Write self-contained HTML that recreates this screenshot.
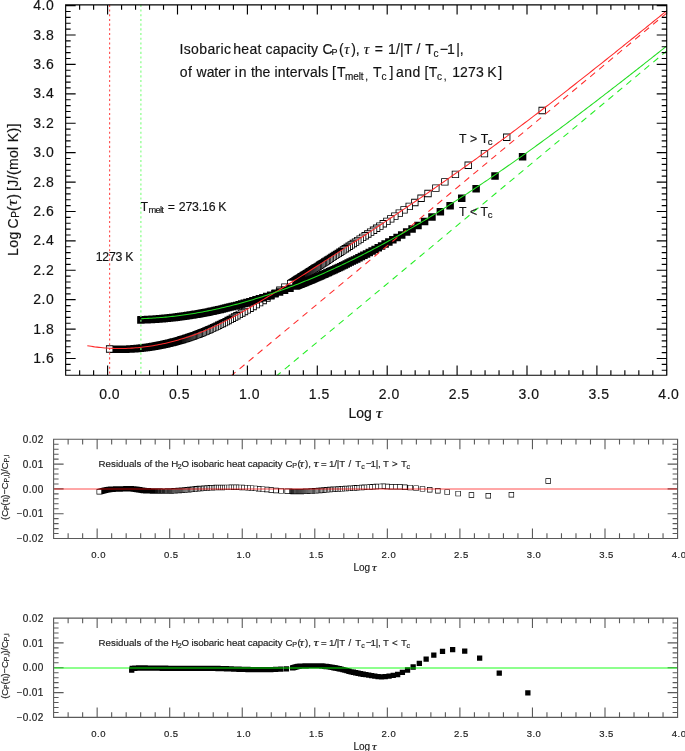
<!DOCTYPE html>
<html><head><meta charset="utf-8"><style>
html,body{margin:0;padding:0;background:#fff;}
svg{display:block;font-family:"Liberation Sans", sans-serif;font-kerning:none;}
text{stroke:#222;stroke-width:0.18px;}
</style></head><body>
<svg width="685" height="751" viewBox="0 0 685 751">
<rect width="685" height="751" fill="#fff"/>
<g opacity="0.999">
<path d="M538.5 106.78h7.35v7.35h-7.35zM503.03 133.55h7.35v7.35h-7.35zM480.78 149.91h7.35v7.35h-7.35zM464.54 161.62h7.35v7.35h-7.35zM451.74 170.73h7.35v7.35h-7.35zM441.17 178.16h7.35v7.35h-7.35zM432.17 184.43h7.35v7.35h-7.35zM424.34 189.85h7.35v7.35h-7.35zM417.4 194.61h7.35v7.35h-7.35zM411.17 198.87h7.35v7.35h-7.35zM405.53 202.71h7.35v7.35h-7.35zM400.36 206.21h7.35v7.35h-7.35zM395.6 209.42h7.35v7.35h-7.35zM391.18 212.38h7.35v7.35h-7.35zM387.07 215.14h7.35v7.35h-7.35zM383.22 217.71h7.35v7.35h-7.35zM379.59 220.12h7.35v7.35h-7.35zM376.17 222.4h7.35v7.35h-7.35zM372.94 224.54h7.35v7.35h-7.35zM369.86 226.57h7.35v7.35h-7.35zM366.94 228.5h7.35v7.35h-7.35zM364.15 230.34h7.35v7.35h-7.35zM361.48 232.09h7.35v7.35h-7.35zM358.92 233.77h7.35v7.35h-7.35zM356.47 235.38h7.35v7.35h-7.35zM354.11 236.92h7.35v7.35h-7.35zM351.84 238.4h7.35v7.35h-7.35zM349.66 239.83h7.35v7.35h-7.35zM347.55 241.2h7.35v7.35h-7.35zM345.5 242.53h7.35v7.35h-7.35zM343.53 243.81h7.35v7.35h-7.35zM341.62 245.05h7.35v7.35h-7.35zM339.77 246.25h7.35v7.35h-7.35zM337.97 247.42h7.35v7.35h-7.35zM336.22 248.55h7.35v7.35h-7.35zM334.52 249.64h7.35v7.35h-7.35zM332.87 250.71h7.35v7.35h-7.35zM331.26 251.75h7.35v7.35h-7.35zM329.7 252.76h7.35v7.35h-7.35zM328.17 253.74h7.35v7.35h-7.35zM326.68 254.7h7.35v7.35h-7.35zM325.23 255.63h7.35v7.35h-7.35zM323.81 256.54h7.35v7.35h-7.35zM322.42 257.43h7.35v7.35h-7.35zM321.06 258.3h7.35v7.35h-7.35zM319.73 259.16h7.35v7.35h-7.35zM318.44 259.99h7.35v7.35h-7.35zM317.16 260.8h7.35v7.35h-7.35zM315.92 261.6h7.35v7.35h-7.35zM314.7 262.38h7.35v7.35h-7.35zM313.5 263.14h7.35v7.35h-7.35zM312.33 263.89h7.35v7.35h-7.35zM311.18 264.62h7.35v7.35h-7.35zM310.05 265.34h7.35v7.35h-7.35zM308.94 266.05h7.35v7.35h-7.35zM307.85 266.74h7.35v7.35h-7.35zM306.78 267.42h7.35v7.35h-7.35zM305.73 268.09h7.35v7.35h-7.35zM304.7 268.75h7.35v7.35h-7.35zM303.68 269.39h7.35v7.35h-7.35zM302.68 270.03h7.35v7.35h-7.35zM301.7 270.65h7.35v7.35h-7.35zM300.73 271.26h7.35v7.35h-7.35zM299.78 271.87h7.35v7.35h-7.35zM298.84 272.46h7.35v7.35h-7.35zM297.92 273.04h7.35v7.35h-7.35zM297.01 273.62h7.35v7.35h-7.35zM296.11 274.18h7.35v7.35h-7.35zM295.23 274.74h7.35v7.35h-7.35zM294.36 275.29h7.35v7.35h-7.35zM293.5 275.83h7.35v7.35h-7.35zM292.66 276.36h7.35v7.35h-7.35zM291.82 276.88h7.35v7.35h-7.35zM291 277.4h7.35v7.35h-7.35zM290.19 277.91h7.35v7.35h-7.35zM289.39 278.41h7.35v7.35h-7.35zM288.59 278.91h7.35v7.35h-7.35zM287.81 279.4h7.35v7.35h-7.35zM287.04 279.88h7.35v7.35h-7.35zM281.2 283.52h7.35v7.35h-7.35zM276.2 286.61h7.35v7.35h-7.35zM271.57 289.46h7.35v7.35h-7.35zM267.28 292.08h7.35v7.35h-7.35zM263.26 294.52h7.35v7.35h-7.35zM259.5 296.79h7.35v7.35h-7.35zM255.95 298.92h7.35v7.35h-7.35zM252.61 300.91h7.35v7.35h-7.35zM249.43 302.79h7.35v7.35h-7.35zM246.42 304.56h7.35v7.35h-7.35zM243.54 306.24h7.35v7.35h-7.35zM240.8 307.82h7.35v7.35h-7.35zM238.17 309.32h7.35v7.35h-7.35zM235.66 310.74h7.35v7.35h-7.35zM233.24 312.08h7.35v7.35h-7.35zM230.92 313.36h7.35v7.35h-7.35zM228.68 314.58h7.35v7.35h-7.35zM226.52 315.73h7.35v7.35h-7.35zM224.44 316.83h7.35v7.35h-7.35zM222.42 317.88h7.35v7.35h-7.35zM220.47 318.88h7.35v7.35h-7.35zM218.58 319.84h7.35v7.35h-7.35zM216.75 320.75h7.35v7.35h-7.35zM214.97 321.62h7.35v7.35h-7.35zM213.25 322.45h7.35v7.35h-7.35zM211.56 323.24h7.35v7.35h-7.35zM209.93 324h7.35v7.35h-7.35zM208.34 324.73h7.35v7.35h-7.35zM206.79 325.43h7.35v7.35h-7.35zM205.27 326.09h7.35v7.35h-7.35zM203.8 326.73h7.35v7.35h-7.35zM202.36 327.34h7.35v7.35h-7.35zM200.95 327.93h7.35v7.35h-7.35zM199.57 328.49h7.35v7.35h-7.35zM198.23 329.03h7.35v7.35h-7.35zM196.91 329.55h7.35v7.35h-7.35zM195.62 330.05h7.35v7.35h-7.35zM194.36 330.54h7.35v7.35h-7.35zM193.13 331h7.35v7.35h-7.35zM191.92 331.45h7.35v7.35h-7.35zM190.73 331.88h7.35v7.35h-7.35zM189.56 332.3h7.35v7.35h-7.35zM188.42 332.7h7.35v7.35h-7.35zM187.3 333.09h7.35v7.35h-7.35zM186.2 333.47h7.35v7.35h-7.35zM185.12 333.83h7.35v7.35h-7.35zM184.05 334.19h7.35v7.35h-7.35zM183.01 334.53h7.35v7.35h-7.35zM181.98 334.86h7.35v7.35h-7.35zM180.97 335.18h7.35v7.35h-7.35zM179.98 335.49h7.35v7.35h-7.35zM179 335.79h7.35v7.35h-7.35zM178.04 336.08h7.35v7.35h-7.35zM177.09 336.36h7.35v7.35h-7.35zM176.16 336.64h7.35v7.35h-7.35zM175.24 336.9h7.35v7.35h-7.35zM174.34 337.16h7.35v7.35h-7.35zM173.45 337.41h7.35v7.35h-7.35zM172.57 337.66h7.35v7.35h-7.35zM171.7 337.89h7.35v7.35h-7.35zM170.85 338.13h7.35v7.35h-7.35zM170.01 338.35h7.35v7.35h-7.35zM169.18 338.57h7.35v7.35h-7.35zM168.36 338.78h7.35v7.35h-7.35zM167.55 338.99h7.35v7.35h-7.35zM166.75 339.19h7.35v7.35h-7.35zM165.97 339.38h7.35v7.35h-7.35zM165.19 339.57h7.35v7.35h-7.35zM164.42 339.75h7.35v7.35h-7.35zM163.67 339.93h7.35v7.35h-7.35zM162.92 340.11h7.35v7.35h-7.35zM162.18 340.28h7.35v7.35h-7.35zM161.45 340.44h7.35v7.35h-7.35zM160.73 340.6h7.35v7.35h-7.35zM160.01 340.76h7.35v7.35h-7.35zM159.31 340.91h7.35v7.35h-7.35zM158.61 341.06h7.35v7.35h-7.35zM157.92 341.21h7.35v7.35h-7.35zM157.24 341.35h7.35v7.35h-7.35zM156.57 341.48h7.35v7.35h-7.35zM155.9 341.62h7.35v7.35h-7.35zM155.24 341.75h7.35v7.35h-7.35zM154.59 341.87h7.35v7.35h-7.35zM153.95 341.99h7.35v7.35h-7.35zM153.31 342.11h7.35v7.35h-7.35zM152.68 342.23h7.35v7.35h-7.35zM152.05 342.34h7.35v7.35h-7.35zM151.43 342.45h7.35v7.35h-7.35zM150.82 342.56h7.35v7.35h-7.35zM150.21 342.67h7.35v7.35h-7.35zM149.61 342.77h7.35v7.35h-7.35zM149.02 342.87h7.35v7.35h-7.35zM148.43 342.96h7.35v7.35h-7.35zM147.85 343.06h7.35v7.35h-7.35zM147.27 343.15h7.35v7.35h-7.35zM146.7 343.24h7.35v7.35h-7.35zM146.13 343.32h7.35v7.35h-7.35zM145.57 343.41h7.35v7.35h-7.35zM145.01 343.49h7.35v7.35h-7.35zM144.46 343.57h7.35v7.35h-7.35zM143.91 343.65h7.35v7.35h-7.35zM143.37 343.72h7.35v7.35h-7.35zM142.84 343.8h7.35v7.35h-7.35zM142.3 343.87h7.35v7.35h-7.35zM141.78 343.94h7.35v7.35h-7.35zM141.25 344h7.35v7.35h-7.35zM140.74 344.07h7.35v7.35h-7.35zM140.22 344.13h7.35v7.35h-7.35zM139.71 344.2h7.35v7.35h-7.35zM139.21 344.26h7.35v7.35h-7.35zM138.71 344.31h7.35v7.35h-7.35zM138.21 344.37h7.35v7.35h-7.35zM137.72 344.43h7.35v7.35h-7.35zM137.23 344.48h7.35v7.35h-7.35zM136.74 344.53h7.35v7.35h-7.35zM136.26 344.58h7.35v7.35h-7.35zM135.78 344.63h7.35v7.35h-7.35zM135.31 344.68h7.35v7.35h-7.35zM134.84 344.72h7.35v7.35h-7.35zM134.37 344.77h7.35v7.35h-7.35zM133.91 344.81h7.35v7.35h-7.35zM133.45 344.85h7.35v7.35h-7.35zM132.99 344.89h7.35v7.35h-7.35zM132.54 344.93h7.35v7.35h-7.35zM132.09 344.97h7.35v7.35h-7.35zM131.65 345h7.35v7.35h-7.35zM131.2 345.04h7.35v7.35h-7.35zM130.76 345.07h7.35v7.35h-7.35zM130.33 345.1h7.35v7.35h-7.35zM129.89 345.13h7.35v7.35h-7.35zM129.46 345.16h7.35v7.35h-7.35zM129.04 345.19h7.35v7.35h-7.35zM128.61 345.22h7.35v7.35h-7.35zM128.19 345.25h7.35v7.35h-7.35zM127.77 345.27h7.35v7.35h-7.35zM127.36 345.3h7.35v7.35h-7.35zM126.94 345.32h7.35v7.35h-7.35zM126.53 345.34h7.35v7.35h-7.35zM126.13 345.36h7.35v7.35h-7.35zM125.72 345.39h7.35v7.35h-7.35zM125.32 345.41h7.35v7.35h-7.35zM124.92 345.42h7.35v7.35h-7.35zM124.53 345.44h7.35v7.35h-7.35zM124.13 345.46h7.35v7.35h-7.35zM123.74 345.47h7.35v7.35h-7.35zM123.35 345.49h7.35v7.35h-7.35zM122.97 345.5h7.35v7.35h-7.35zM122.58 345.52h7.35v7.35h-7.35zM122.2 345.53h7.35v7.35h-7.35zM121.82 345.54h7.35v7.35h-7.35zM121.44 345.55h7.35v7.35h-7.35zM121.07 345.56h7.35v7.35h-7.35zM120.7 345.57h7.35v7.35h-7.35zM120.33 345.58h7.35v7.35h-7.35zM119.96 345.59h7.35v7.35h-7.35zM119.59 345.59h7.35v7.35h-7.35zM119.23 345.6h7.35v7.35h-7.35zM118.87 345.61h7.35v7.35h-7.35zM118.51 345.61h7.35v7.35h-7.35zM118.15 345.62h7.35v7.35h-7.35zM117.8 345.62h7.35v7.35h-7.35zM117.45 345.62h7.35v7.35h-7.35zM117.1 345.62h7.35v7.35h-7.35zM116.75 345.63h7.35v7.35h-7.35zM116.4 345.63h7.35v7.35h-7.35zM116.06 345.63h7.35v7.35h-7.35zM115.71 345.63h7.35v7.35h-7.35zM115.37 345.63h7.35v7.35h-7.35zM115.03 345.62h7.35v7.35h-7.35zM114.7 345.62h7.35v7.35h-7.35zM114.36 345.62h7.35v7.35h-7.35zM114.03 345.62h7.35v7.35h-7.35zM113.7 345.61h7.35v7.35h-7.35zM113.37 345.61h7.35v7.35h-7.35zM113.04 345.6h7.35v7.35h-7.35zM112.71 345.6h7.35v7.35h-7.35zM112.39 345.59h7.35v7.35h-7.35zM112.06 345.59h7.35v7.35h-7.35zM111.74 345.58h7.35v7.35h-7.35zM111.42 345.57h7.35v7.35h-7.35zM111.11 345.56h7.35v7.35h-7.35zM110.79 345.56h7.35v7.35h-7.35zM110.48 345.55h7.35v7.35h-7.35zM110.16 345.54h7.35v7.35h-7.35zM109.85 345.53h7.35v7.35h-7.35zM109.54 345.52h7.35v7.35h-7.35zM109.24 345.51h7.35v7.35h-7.35zM108.93 345.5h7.35v7.35h-7.35zM108.62 345.48h7.35v7.35h-7.35zM108.32 345.47h7.35v7.35h-7.35zM108.02 345.46h7.35v7.35h-7.35zM107.72 345.45h7.35v7.35h-7.35zM107.42 345.43h7.35v7.35h-7.35zM107.12 345.42h7.35v7.35h-7.35zM106.83 345.41h7.35v7.35h-7.35zM106.53 345.39h7.35v7.35h-7.35zM106.24 345.38h7.35v7.35h-7.35zM105.95 345.36h7.35v7.35h-7.35z" fill="#000"/><path d="M539.35 107.63H545V113.28H539.35zM503.88 134.4H509.53V140.05H503.88zM481.63 150.76H487.28V156.41H481.63zM465.39 162.47H471.04V168.12H465.39zM452.59 171.58H458.24V177.23H452.59zM442.02 179.01H447.67V184.66H442.02zM433.02 185.28H438.67V190.93H433.02zM425.19 190.7H430.84V196.35H425.19zM418.25 195.46H423.9V198.87H418.25zM418.52 198.87H423.9V201.11H418.52zM412.02 199.72H417.67V202.71H412.02zM412.88 202.71H417.67V205.37H412.88zM406.38 203.56H412.03V206.21H406.38zM407.71 206.21H412.03V209.21H407.71zM401.21 207.06H406.86V209.42H401.21zM402.95 209.42H406.86V212.71H402.95zM396.45 210.27H402.1V212.38H396.45zM398.53 212.38H402.1V215.92H398.53zM392.03 213.23H397.68V215.14H392.03zM394.42 215.14H397.68V218.88H394.42zM387.92 215.99H393.57V217.71H387.92zM390.57 217.71H393.57V221.64H390.57zM384.07 218.56H389.72V220.12H384.07zM386.94 220.12H389.72V224.21H386.94zM380.44 220.97H386.09V222.4H380.44zM383.52 222.4H386.09V226.62H383.52zM377.02 223.25H382.67V224.54H377.02zM380.29 224.54H382.67V228.9H380.29zM373.79 225.39H379.44V226.57H373.79zM377.21 226.57H379.44V231.04H377.21zM370.71 227.42H376.36V228.5H370.71zM374.29 228.5H376.36V233.07H374.29zM367.79 229.35H373.44V230.34H367.79zM371.5 230.34H373.44V235H371.5zM365 231.19H370.65V232.09H365zM368.83 232.09H370.65V236.84H368.83zM362.33 232.94H367.98V233.77H362.33zM366.27 233.77H367.98V238.59H366.27zM359.77 234.62H365.42V235.38H359.77zM363.82 235.38H365.42V240.27H363.82zM357.32 236.23H362.97V236.92H357.32zM361.46 236.92H362.97V241.88H361.46zM354.96 237.77H360.61V238.4H354.96zM359.19 238.4H360.61V243.42H359.19zM352.69 239.25H358.34V239.83H352.69zM357.01 239.83H358.34V244.9H357.01zM350.51 240.68H356.16V241.2H350.51zM354.9 241.2H356.16V246.33H354.9zM348.4 242.05H354.05V242.53H348.4zM352.85 242.53H354.05V247.7H352.85zM346.35 243.38H352V243.81H346.35zM350.88 243.81H352V249.03H350.88zM344.38 244.66H350.03V245.05H344.38zM348.97 245.05H350.03V250.31H348.97zM342.47 245.9H348.12V246.25H342.47zM347.12 246.25H348.12V251.55H347.12zM340.62 247.1H346.27V247.42H340.62zM345.32 247.42H346.27V252.75H345.32zM343.57 248.55H344.47V253.92H343.57zM341.87 249.64H342.72V255.05H341.87zM340.22 250.71H341.02V256.14H340.22zM338.61 251.75H339.37V257.21H338.61zM337.05 252.76H337.76V258.25H337.05zM335.52 253.74H336.2V259.26H335.52zM334.03 254.7H334.67V260.24H334.03zM332.58 255.63H333.18V261.2H332.58zM331.16 256.54H331.73V262.13H331.16zM329.77 257.43H330.31V263.04H329.77zM328.41 258.3H328.92V263.93H328.41zM327.08 259.16H327.56V264.8H327.08zM325.79 260.01H326.23V265.66H325.79zM324.51 260.84H324.94V266.49H324.51zM323.27 261.65H323.66V267.3H323.27zM322.05 262.45H322.42V268.1H322.05zM320.85 263.23H321.2V268.88H320.85zM319.68 263.99H320V269.64H319.68zM318.53 264.74H318.83V270.39H318.53zM317.4 265.47H317.68V271.12H317.4zM316.29 266.19H316.55V271.84H316.29zM315.2 266.9H315.44V272.55H315.2zM314.13 267.59H314.35V273.24H314.13zM313.08 268.27H313.28V273.92H313.08zM312.05 268.94H312.23V274.59H312.05zM311.03 269.6H311.2V275.25H311.03zM310.03 270.24H310.18V275.89H310.03zM309.05 270.88H309.18V276.53H309.05zM308.08 271.5H308.2V277.15H308.08zM307.13 272.11H307.23V277.76H307.13zM306.19 272.72H306.28V278.37H306.19zM305.27 273.31H305.34V278.96H305.27zM287.89 280.73H293.54V283.52H287.89zM288.55 283.52H293.54V286.38H288.55zM282.05 284.37H287.7V286.61H282.05zM283.55 286.61H287.7V290.02H283.55zM277.05 287.46H282.7V289.46H277.05zM278.92 289.46H282.7V293.11H278.92zM272.42 290.31H278.07V292.08H272.42zM274.63 292.08H278.07V295.96H274.63zM268.13 292.93H273.78V294.52H268.13zM270.61 294.52H273.78V298.58H270.61zM264.11 295.37H269.76V296.79H264.11zM266.85 296.79H269.76V301.02H266.85zM260.35 297.64H266V298.92H260.35zM263.3 298.92H266V303.29H263.3zM256.8 299.77H262.45V300.91H256.8zM259.96 300.91H262.45V305.42H259.96zM253.46 301.76H259.11V302.79H253.46zM256.78 302.79H259.11V307.41H256.78zM250.28 303.64H255.93V304.56H250.28zM253.77 304.56H255.93V309.29H253.77zM247.27 305.41H252.92V306.24H247.27zM250.89 306.24H252.92V311.06H250.89zM244.39 307.09H250.04V307.82H244.39zM248.15 307.82H250.04V312.74H248.15zM241.65 308.67H247.3V309.32H241.65zM245.52 309.32H247.3V314.32H245.52zM239.02 310.17H244.67V310.74H239.02zM243.01 310.74H244.67V315.82H243.01zM236.51 311.59H242.16V312.08H236.51zM240.59 312.08H242.16V317.24H240.59zM234.09 312.93H239.74V313.36H234.09zM238.27 313.36H239.74V318.58H238.27zM231.77 314.21H237.42V314.58H231.77zM236.03 314.58H237.42V319.86H236.03zM229.53 315.43H235.18V315.73H229.53zM233.87 315.73H235.18V321.08H233.87zM231.79 316.83H233.02V322.23H231.79zM229.77 317.88H230.94V323.33H229.77zM227.82 318.88H228.92V324.38H227.82zM225.93 319.84H226.97V325.38H225.93zM224.1 320.75H225.08V326.34H224.1zM222.32 321.62H223.25V327.25H222.32zM220.6 322.47H221.47V328.12H220.6zM218.91 323.3H219.75V328.95H218.91zM217.28 324.09H218.06V329.74H217.28zM215.69 324.85H216.43V330.5H215.69zM214.14 325.58H214.84V331.23H214.14zM212.62 326.28H213.29V331.93H212.62zM211.15 326.94H211.77V332.59H211.15zM209.71 327.58H210.3V333.23H209.71zM208.3 328.19H208.86V333.84H208.3zM206.92 328.78H207.45V334.43H206.92zM205.58 329.34H206.07V334.99H205.58zM204.26 329.88H204.73V335.53H204.26zM202.97 330.4H203.41V336.05H202.97zM201.71 330.9H202.12V336.55H201.71zM200.48 331.39H200.86V337.04H200.48zM199.27 331.85H199.63V337.5H199.27zM198.08 332.3H198.42V337.95H198.08zM196.91 332.73H197.23V338.38H196.91zM195.77 333.15H196.06V338.8H195.77zM194.65 333.55H194.92V339.2H194.65zM193.55 333.94H193.8V339.59H193.55zM192.47 334.32H192.7V339.97H192.47zM191.4 334.68H191.62V340.33H191.4zM190.36 335.04H190.55V340.69H190.36zM189.33 335.38H189.51V341.03H189.33zM188.32 335.71H188.48V341.36H188.32zM187.33 336.03H187.47V341.68H187.33zM186.35 336.34H186.48V341.99H186.35zM185.39 336.64H185.5V342.29H185.39zM184.44 336.93H184.54V342.58H184.44zM183.51 337.21H183.59V342.86H183.51zM182.59 337.49H182.66V343.14H182.59zM106.8 346.21H112.45V351.86H106.8z" fill="#fff"/>
<path d="M518.83 153.07h7.5v7.5h-7.5zM491.26 172.33h7.5v7.5h-7.5zM472.37 185.08h7.5v7.5h-7.5zM457.98 194.52h7.5v7.5h-7.5zM446.36 201.98h7.5v7.5h-7.5zM436.61 208.1h7.5v7.5h-7.5zM428.21 213.28h7.5v7.5h-7.5zM420.83 217.75h7.5v7.5h-7.5zM414.25 221.67h7.5v7.5h-7.5zM408.32 225.16h7.5v7.5h-7.5zM402.92 228.29h7.5v7.5h-7.5zM397.95 231.13h7.5v7.5h-7.5zM393.36 233.73h7.5v7.5h-7.5zM389.1 236.11h7.5v7.5h-7.5zM385.11 238.31h7.5v7.5h-7.5zM381.37 240.36h7.5v7.5h-7.5zM377.85 242.27h7.5v7.5h-7.5zM374.52 244.05h7.5v7.5h-7.5zM371.37 245.73h7.5v7.5h-7.5zM368.37 247.3h7.5v7.5h-7.5zM365.51 248.8h7.5v7.5h-7.5zM362.78 250.21h7.5v7.5h-7.5zM360.16 251.55h7.5v7.5h-7.5zM357.66 252.82h7.5v7.5h-7.5zM355.25 254.03h7.5v7.5h-7.5zM352.94 255.19h7.5v7.5h-7.5zM350.71 256.3h7.5v7.5h-7.5zM348.56 257.36h7.5v7.5h-7.5zM346.48 258.37h7.5v7.5h-7.5zM344.47 259.35h7.5v7.5h-7.5zM342.53 260.29h7.5v7.5h-7.5zM340.65 261.19h7.5v7.5h-7.5zM338.82 262.06h7.5v7.5h-7.5zM337.05 262.9h7.5v7.5h-7.5zM335.32 263.7h7.5v7.5h-7.5zM333.65 264.49h7.5v7.5h-7.5zM332.02 265.24h7.5v7.5h-7.5zM330.43 265.98h7.5v7.5h-7.5zM328.88 266.68h7.5v7.5h-7.5zM327.37 267.37h7.5v7.5h-7.5zM325.9 268.04h7.5v7.5h-7.5zM324.46 268.69h7.5v7.5h-7.5zM323.06 269.31h7.5v7.5h-7.5zM321.69 269.93h7.5v7.5h-7.5zM320.35 270.52h7.5v7.5h-7.5zM319.03 271.1h7.5v7.5h-7.5zM317.75 271.66h7.5v7.5h-7.5zM316.49 272.21h7.5v7.5h-7.5zM315.26 272.74h7.5v7.5h-7.5zM314.05 273.26h7.5v7.5h-7.5zM312.86 273.77h7.5v7.5h-7.5zM311.7 274.27h7.5v7.5h-7.5zM310.56 274.75h7.5v7.5h-7.5zM309.44 275.23h7.5v7.5h-7.5zM308.34 275.69h7.5v7.5h-7.5zM307.26 276.14h7.5v7.5h-7.5zM306.2 276.58h7.5v7.5h-7.5zM305.16 277.01h7.5v7.5h-7.5zM304.13 277.44h7.5v7.5h-7.5zM303.13 277.85h7.5v7.5h-7.5zM302.13 278.25h7.5v7.5h-7.5zM301.16 278.65h7.5v7.5h-7.5zM300.2 279.04h7.5v7.5h-7.5zM299.25 279.42h7.5v7.5h-7.5zM298.32 279.79h7.5v7.5h-7.5zM297.41 280.16h7.5v7.5h-7.5zM296.5 280.52h7.5v7.5h-7.5zM295.61 280.87h7.5v7.5h-7.5zM294.74 281.22h7.5v7.5h-7.5zM293.87 281.56h7.5v7.5h-7.5zM293.02 281.89h7.5v7.5h-7.5zM292.18 282.22h7.5v7.5h-7.5zM286.22 284.5h7.5v7.5h-7.5zM280.8 286.51h7.5v7.5h-7.5zM275.82 288.31h7.5v7.5h-7.5zM271.21 289.93h7.5v7.5h-7.5zM266.94 291.39h7.5v7.5h-7.5zM262.94 292.72h7.5v7.5h-7.5zM259.19 293.94h7.5v7.5h-7.5zM255.66 295.07h7.5v7.5h-7.5zM252.32 296.1h7.5v7.5h-7.5zM249.16 297.06h7.5v7.5h-7.5zM246.15 297.96h7.5v7.5h-7.5zM243.29 298.79h7.5v7.5h-7.5zM240.55 299.57h7.5v7.5h-7.5zM237.94 300.3h7.5v7.5h-7.5zM235.43 300.98h7.5v7.5h-7.5zM233.02 301.63h7.5v7.5h-7.5zM230.7 302.24h7.5v7.5h-7.5zM228.47 302.81h7.5v7.5h-7.5zM226.31 303.35h7.5v7.5h-7.5zM224.23 303.87h7.5v7.5h-7.5zM222.22 304.36h7.5v7.5h-7.5zM220.28 304.82h7.5v7.5h-7.5zM218.39 305.26h7.5v7.5h-7.5zM216.56 305.68h7.5v7.5h-7.5zM214.79 306.08h7.5v7.5h-7.5zM213.06 306.47h7.5v7.5h-7.5zM211.38 306.83h7.5v7.5h-7.5zM209.75 307.18h7.5v7.5h-7.5zM208.16 307.51h7.5v7.5h-7.5zM206.61 307.83h7.5v7.5h-7.5zM205.1 308.14h7.5v7.5h-7.5zM203.63 308.43h7.5v7.5h-7.5zM202.19 308.72h7.5v7.5h-7.5zM200.78 308.99h7.5v7.5h-7.5zM199.41 309.25h7.5v7.5h-7.5zM198.07 309.5h7.5v7.5h-7.5zM196.75 309.74h7.5v7.5h-7.5zM195.47 309.97h7.5v7.5h-7.5zM194.21 310.19h7.5v7.5h-7.5zM192.97 310.4h7.5v7.5h-7.5zM191.76 310.61h7.5v7.5h-7.5zM190.58 310.81h7.5v7.5h-7.5zM189.41 311h7.5v7.5h-7.5zM188.27 311.19h7.5v7.5h-7.5zM187.15 311.37h7.5v7.5h-7.5zM186.05 311.54h7.5v7.5h-7.5zM184.97 311.7h7.5v7.5h-7.5zM183.91 311.87h7.5v7.5h-7.5zM182.87 312.02h7.5v7.5h-7.5zM181.84 312.17h7.5v7.5h-7.5zM180.83 312.32h7.5v7.5h-7.5zM179.84 312.46h7.5v7.5h-7.5zM178.87 312.59h7.5v7.5h-7.5zM177.9 312.72h7.5v7.5h-7.5zM176.96 312.85h7.5v7.5h-7.5zM176.03 312.97h7.5v7.5h-7.5zM175.11 313.09h7.5v7.5h-7.5zM174.21 313.21h7.5v7.5h-7.5zM173.32 313.32h7.5v7.5h-7.5zM172.44 313.43h7.5v7.5h-7.5zM171.57 313.53h7.5v7.5h-7.5zM170.72 313.63h7.5v7.5h-7.5zM169.88 313.73h7.5v7.5h-7.5zM169.05 313.82h7.5v7.5h-7.5zM168.23 313.92h7.5v7.5h-7.5zM167.43 314h7.5v7.5h-7.5zM166.63 314.09h7.5v7.5h-7.5zM165.84 314.17h7.5v7.5h-7.5zM165.07 314.26h7.5v7.5h-7.5zM164.3 314.33h7.5v7.5h-7.5zM163.54 314.41h7.5v7.5h-7.5zM162.79 314.48h7.5v7.5h-7.5zM162.06 314.55h7.5v7.5h-7.5zM161.33 314.62h7.5v7.5h-7.5zM160.6 314.69h7.5v7.5h-7.5zM159.89 314.75h7.5v7.5h-7.5zM159.19 314.82h7.5v7.5h-7.5zM158.49 314.88h7.5v7.5h-7.5zM157.8 314.94h7.5v7.5h-7.5zM157.12 314.99h7.5v7.5h-7.5zM156.45 315.05h7.5v7.5h-7.5zM155.78 315.1h7.5v7.5h-7.5zM155.13 315.15h7.5v7.5h-7.5zM154.47 315.2h7.5v7.5h-7.5zM153.83 315.25h7.5v7.5h-7.5zM153.19 315.3h7.5v7.5h-7.5zM152.56 315.35h7.5v7.5h-7.5zM151.94 315.39h7.5v7.5h-7.5zM151.32 315.43h7.5v7.5h-7.5zM150.71 315.47h7.5v7.5h-7.5zM150.1 315.51h7.5v7.5h-7.5zM149.5 315.55h7.5v7.5h-7.5zM148.91 315.59h7.5v7.5h-7.5zM148.32 315.62h7.5v7.5h-7.5zM147.73 315.66h7.5v7.5h-7.5zM147.16 315.69h7.5v7.5h-7.5zM146.59 315.72h7.5v7.5h-7.5zM146.02 315.75h7.5v7.5h-7.5zM145.46 315.78h7.5v7.5h-7.5zM144.9 315.81h7.5v7.5h-7.5zM144.35 315.84h7.5v7.5h-7.5zM143.8 315.87h7.5v7.5h-7.5zM143.26 315.89h7.5v7.5h-7.5zM142.73 315.92h7.5v7.5h-7.5zM142.2 315.94h7.5v7.5h-7.5zM141.67 315.96h7.5v7.5h-7.5zM141.15 315.99h7.5v7.5h-7.5zM140.63 316.01h7.5v7.5h-7.5zM140.11 316.03h7.5v7.5h-7.5zM139.6 316.05h7.5v7.5h-7.5zM139.1 316.06h7.5v7.5h-7.5zM138.6 316.08h7.5v7.5h-7.5zM138.1 316.1h7.5v7.5h-7.5zM137.61 316.11h7.5v7.5h-7.5zM137.15 316.13h7.5v7.5h-7.5z" fill="#000"/>
<line x1="109.62" y1="4.8" x2="109.62" y2="375.2" stroke="#ff4a4a" stroke-width="1.1" stroke-dasharray="2.1 2.6"/>
<line x1="140.9" y1="4.8" x2="140.9" y2="375.2" stroke="#7cff7c" stroke-width="1.1" stroke-dasharray="2.1 2.6"/>
<line x1="231.92" y1="375.2" x2="666.7" y2="13.03" stroke="#ff2a2a" stroke-width="1.05" stroke-dasharray="6.4 5.3" stroke-dashoffset="1.74"/>
<line x1="277.43" y1="375.2" x2="666.7" y2="50.94" stroke="#22ee22" stroke-width="1.05" stroke-dasharray="6.4 5.3" stroke-dashoffset="2.16"/>
<polyline points="87.3,345.71 89.24,346.04 91.18,346.34 93.11,346.63 95.05,346.9 96.99,347.14 98.93,347.36 100.86,347.57 102.8,347.75 104.74,347.91 106.68,348.06 108.62,348.18 110.55,348.28 112.49,348.37 114.43,348.43 116.37,348.47 118.3,348.5 120.24,348.5 122.18,348.49 124.12,348.45 126.06,348.4 127.99,348.33 129.93,348.23 131.87,348.12 133.81,347.99 135.74,347.84 137.68,347.67 139.62,347.49 141.56,347.28 143.5,347.06 145.43,346.81 147.37,346.55 149.31,346.27 151.25,345.98 153.18,345.66 155.12,345.33 157.06,344.97 159,344.6 160.94,344.22 162.87,343.81 164.81,343.39 166.75,342.95 168.69,342.49 170.63,342.01 172.56,341.52 174.5,341.01 176.44,340.48 178.38,339.93 180.31,339.37 182.25,338.79 184.19,338.2 186.13,337.58 188.07,336.95 190,336.3 191.94,335.63 193.88,334.95 195.82,334.24 197.75,333.52 199.69,332.78 201.63,332.02 203.57,331.24 205.51,330.44 207.44,329.62 209.38,328.78 211.32,327.92 213.26,327.04 215.19,326.14 217.13,325.22 219.07,324.29 221.01,323.34 222.95,322.37 224.88,321.38 226.82,320.38 228.76,319.37 230.7,318.34 232.63,317.3 234.57,316.25 236.51,315.18 238.45,314.11 240.39,313.02 242.32,311.92 244.26,310.82 246.2,309.7 248.14,308.58 250.07,307.45 252.01,306.31 253.95,305.17 255.89,304.02 257.83,302.87 259.76,301.71 261.7,300.55 263.64,299.39 265.58,298.22 267.51,297.05 269.45,295.87 271.39,294.69 273.33,293.51 275.27,292.32 277.2,291.13 279.14,289.94 281.08,288.74 283.02,287.55 284.95,286.34 286.89,285.14 288.83,283.93 290.77,282.72 292.71,281.51 294.64,280.29 296.58,279.08 298.52,277.86 300.46,276.64 302.39,275.41 304.33,274.19 306.27,272.96 308.21,271.73 310.15,270.5 312.08,269.27 314.02,268.03 315.96,266.79 317.9,265.56 319.84,264.32 321.77,263.08 323.71,261.84 325.65,260.6 327.59,259.35 329.52,258.11 331.46,256.86 333.4,255.61 335.34,254.36 337.28,253.11 339.21,251.86 341.15,250.61 343.09,249.36 345.03,248.1 346.96,246.84 348.9,245.58 350.84,244.32 352.78,243.06 354.72,241.8 356.65,240.53 358.59,239.27 360.53,238 362.47,236.73 364.4,235.46 366.34,234.19 368.28,232.91 370.22,231.64 372.16,230.36 374.09,229.08 376.03,227.8 377.97,226.52 379.91,225.23 381.84,223.94 383.78,222.66 385.72,221.37 387.66,220.07 389.6,218.78 391.53,217.49 393.47,216.19 395.41,214.89 397.35,213.59 399.28,212.28 401.22,210.98 403.16,209.67 405.1,208.36 407.04,207.05 408.97,205.74 410.91,204.42 412.85,203.1 414.79,201.79 416.72,200.46 418.66,199.14 420.6,197.81 422.54,196.49 424.48,195.15 426.41,193.82 428.35,192.49 430.29,191.15 432.23,189.81 434.16,188.47 436.1,187.12 438.04,185.78 439.98,184.43 441.92,183.08 443.85,181.73 445.79,180.37 447.73,179.01 449.67,177.65 451.61,176.29 453.54,174.92 455.48,173.55 457.42,172.18 459.36,170.81 461.29,169.43 463.23,168.05 465.17,166.67 467.11,165.29 469.05,163.9 470.98,162.51 472.92,161.12 474.86,159.73 476.8,158.33 478.73,156.93 480.67,155.53 482.61,154.12 484.55,152.72 486.49,151.3 488.42,149.89 490.36,148.47 492.3,147.06 494.24,145.63 496.17,144.21 498.11,142.78 500.05,141.35 501.99,139.92 503.93,138.48 505.86,137.05 507.8,135.61 509.74,134.16 511.68,132.72 513.61,131.27 515.55,129.82 517.49,128.37 519.43,126.91 521.37,125.45 523.3,123.99 525.24,122.53 527.18,121.06 529.12,119.6 531.05,118.13 532.99,116.66 534.93,115.18 536.87,113.71 538.81,112.23 540.74,110.75 542.68,109.26 544.62,107.78 546.56,106.29 548.49,104.8 550.43,103.31 552.37,101.81 554.31,100.32 556.25,98.82 558.18,97.32 560.12,95.82 562.06,94.31 564,92.81 565.93,91.3 567.87,89.79 569.81,88.28 571.75,86.77 573.69,85.25 575.62,83.73 577.56,82.21 579.5,80.69 581.44,79.17 583.37,77.65 585.31,76.12 587.25,74.59 589.19,73.06 591.13,71.53 593.06,70 595,68.46 596.94,66.93 598.88,65.39 600.82,63.85 602.75,62.31 604.69,60.77 606.63,59.22 608.57,57.68 610.5,56.13 612.44,54.58 614.38,53.04 616.32,51.48 618.26,49.93 620.19,48.38 622.13,46.82 624.07,45.27 626.01,43.71 627.94,42.15 629.88,40.59 631.82,39.03 633.76,37.47 635.7,35.9 637.63,34.34 639.57,32.77 641.51,31.2 643.45,29.64 645.38,28.07 647.32,26.5 649.26,24.93 651.2,23.35 653.14,21.78 655.07,20.21 657.01,18.63 658.95,17.05 660.89,15.48 662.82,13.9 664.76,12.32 666.7,10.74" fill="none" stroke="#ff2a2a" stroke-width="1.05"/>
<polyline points="141.1,318.67 142.86,318.61 144.62,318.55 146.37,318.47 148.13,318.39 149.89,318.3 151.65,318.2 153.41,318.09 155.16,317.97 156.92,317.85 158.68,317.72 160.44,317.58 162.19,317.43 163.95,317.28 165.71,317.11 167.47,316.94 169.23,316.76 170.98,316.58 172.74,316.38 174.5,316.18 176.26,315.97 178.02,315.75 179.77,315.52 181.53,315.29 183.29,315.05 185.05,314.8 186.8,314.54 188.56,314.28 190.32,314.01 192.08,313.73 193.84,313.44 195.59,313.15 197.35,312.85 199.11,312.54 200.87,312.22 202.63,311.9 204.38,311.57 206.14,311.23 207.9,310.88 209.66,310.53 211.41,310.17 213.17,309.8 214.93,309.42 216.69,309.04 218.45,308.65 220.2,308.26 221.96,307.85 223.72,307.44 225.48,307.03 227.24,306.6 228.99,306.17 230.75,305.73 232.51,305.28 234.27,304.83 236.02,304.37 237.78,303.91 239.54,303.43 241.3,302.95 243.06,302.47 244.81,301.97 246.57,301.47 248.33,300.97 250.09,300.45 251.85,299.93 253.6,299.4 255.36,298.87 257.12,298.33 258.88,297.78 260.63,297.23 262.39,296.67 264.15,296.1 265.91,295.53 267.67,294.95 269.42,294.36 271.18,293.77 272.94,293.17 274.7,292.57 276.46,291.96 278.21,291.34 279.97,290.72 281.73,290.09 283.49,289.45 285.24,288.81 287,288.16 288.76,287.5 290.52,286.84 292.28,286.17 294.03,285.5 295.79,284.82 297.55,284.14 299.31,283.44 301.07,282.75 302.82,282.04 304.58,281.33 306.34,280.62 308.1,279.9 309.85,279.17 311.61,278.44 313.37,277.7 315.13,276.96 316.89,276.21 318.64,275.45 320.4,274.69 322.16,273.92 323.92,273.15 325.68,272.37 327.43,271.59 329.19,270.8 330.95,270 332.71,269.2 334.46,268.39 336.22,267.58 337.98,266.77 339.74,265.94 341.5,265.12 343.25,264.28 345.01,263.44 346.77,262.6 348.53,261.75 350.29,260.9 352.04,260.04 353.8,259.17 355.56,258.3 357.32,257.43 359.07,256.55 360.83,255.66 362.59,254.77 364.35,253.87 366.11,252.97 367.86,252.07 369.62,251.16 371.38,250.24 373.14,249.32 374.9,248.39 376.65,247.46 378.41,246.53 380.17,245.59 381.93,244.64 383.68,243.69 385.44,242.74 387.2,241.78 388.96,240.81 390.72,239.84 392.47,238.87 394.23,237.89 395.99,236.91 397.75,235.92 399.51,234.93 401.26,233.93 403.02,232.93 404.78,231.93 406.54,230.92 408.29,229.9 410.05,228.88 411.81,227.86 413.57,226.83 415.33,225.8 417.08,224.76 418.84,223.72 420.6,222.68 422.36,221.63 424.12,220.58 425.87,219.52 427.63,218.46 429.39,217.39 431.15,216.32 432.9,215.25 434.66,214.17 436.42,213.09 438.18,212 439.94,210.91 441.69,209.82 443.45,208.72 445.21,207.62 446.97,206.51 448.73,205.4 450.48,204.29 452.24,203.17 454,202.05 455.76,200.92 457.51,199.8 459.27,198.66 461.03,197.53 462.79,196.39 464.55,195.24 466.3,194.1 468.06,192.95 469.82,191.79 471.58,190.63 473.34,189.47 475.09,188.31 476.85,187.14 478.61,185.97 480.37,184.79 482.12,183.62 483.88,182.43 485.64,181.25 487.4,180.06 489.16,178.87 490.91,177.67 492.67,176.48 494.43,175.27 496.19,174.07 497.95,172.86 499.7,171.65 501.46,170.44 503.22,169.22 504.98,168 506.73,166.78 508.49,165.55 510.25,164.32 512.01,163.09 513.77,161.85 515.52,160.62 517.28,159.38 519.04,158.13 520.8,156.89 522.56,155.64 524.31,154.38 526.07,153.13 527.83,151.87 529.59,150.61 531.34,149.35 533.1,148.08 534.86,146.81 536.62,145.54 538.38,144.27 540.13,142.99 541.89,141.72 543.65,140.43 545.41,139.15 547.17,137.86 548.92,136.58 550.68,135.29 552.44,133.99 554.2,132.7 555.95,131.4 557.71,130.1 559.47,128.8 561.23,127.49 562.99,126.18 564.74,124.87 566.5,123.56 568.26,122.25 570.02,120.93 571.78,119.62 573.53,118.3 575.29,116.97 577.05,115.65 578.81,114.32 580.56,113 582.32,111.67 584.08,110.34 585.84,109 587.6,107.67 589.35,106.33 591.11,104.99 592.87,103.65 594.63,102.31 596.39,100.96 598.14,99.61 599.9,98.27 601.66,96.92 603.42,95.57 605.17,94.21 606.93,92.86 608.69,91.5 610.45,90.14 612.21,88.78 613.96,87.42 615.72,86.06 617.48,84.7 619.24,83.33 621,81.97 622.75,80.6 624.51,79.23 626.27,77.86 628.03,76.49 629.78,75.11 631.54,73.74 633.3,72.36 635.06,70.99 636.82,69.61 638.57,68.23 640.33,66.85 642.09,65.47 643.85,64.09 645.61,62.7 647.36,61.32 649.12,59.93 650.88,58.55 652.64,57.16 654.39,55.77 656.15,54.38 657.91,52.99 659.67,51.6 661.43,50.21 663.18,48.82 664.94,47.42 666.7,46.03" fill="none" stroke="#22dd22" stroke-width="1.05"/>
<path d="M65.65 4.8H666.7V375.2H65.65ZM79.64 375.2v-5.0M79.64 4.8v5.0M93.62 375.2v-5.0M93.62 4.8v5.0M107.6 375.2v-9.6M107.6 4.8v9.6M121.58 375.2v-5.0M121.58 4.8v5.0M135.56 375.2v-5.0M135.56 4.8v5.0M149.54 375.2v-5.0M149.54 4.8v5.0M163.52 375.2v-5.0M163.52 4.8v5.0M177.5 375.2v-9.6M177.5 4.8v9.6M191.48 375.2v-5.0M191.48 4.8v5.0M205.46 375.2v-5.0M205.46 4.8v5.0M219.44 375.2v-5.0M219.44 4.8v5.0M233.42 375.2v-5.0M233.42 4.8v5.0M247.4 375.2v-9.6M247.4 4.8v9.6M261.38 375.2v-5.0M261.38 4.8v5.0M275.36 375.2v-5.0M275.36 4.8v5.0M289.34 375.2v-5.0M289.34 4.8v5.0M303.32 375.2v-5.0M303.32 4.8v5.0M317.3 375.2v-9.6M317.3 4.8v9.6M331.28 375.2v-5.0M331.28 4.8v5.0M345.26 375.2v-5.0M345.26 4.8v5.0M359.24 375.2v-5.0M359.24 4.8v5.0M373.22 375.2v-5.0M373.22 4.8v5.0M387.2 375.2v-9.6M387.2 4.8v9.6M401.18 375.2v-5.0M401.18 4.8v5.0M415.16 375.2v-5.0M415.16 4.8v5.0M429.14 375.2v-5.0M429.14 4.8v5.0M443.12 375.2v-5.0M443.12 4.8v5.0M457.1 375.2v-9.6M457.1 4.8v9.6M471.08 375.2v-5.0M471.08 4.8v5.0M485.06 375.2v-5.0M485.06 4.8v5.0M499.04 375.2v-5.0M499.04 4.8v5.0M513.02 375.2v-5.0M513.02 4.8v5.0M527 375.2v-9.6M527 4.8v9.6M540.98 375.2v-5.0M540.98 4.8v5.0M554.96 375.2v-5.0M554.96 4.8v5.0M568.94 375.2v-5.0M568.94 4.8v5.0M582.92 375.2v-5.0M582.92 4.8v5.0M596.9 375.2v-9.6M596.9 4.8v9.6M610.88 375.2v-5.0M610.88 4.8v5.0M624.86 375.2v-5.0M624.86 4.8v5.0M638.84 375.2v-5.0M638.84 4.8v5.0M652.82 375.2v-5.0M652.82 4.8v5.0M666.8 375.2v-9.6M666.8 4.8v9.6M65.65 5.59h10.0M666.7 5.59h-10.0M65.65 11.47h5.0M666.7 11.47h-5.0M65.65 17.35h5.0M666.7 17.35h-5.0M65.65 23.24h5.0M666.7 23.24h-5.0M65.65 29.12h5.0M666.7 29.12h-5.0M65.65 35h10.0M666.7 35h-10.0M65.65 40.88h5.0M666.7 40.88h-5.0M65.65 46.76h5.0M666.7 46.76h-5.0M65.65 52.65h5.0M666.7 52.65h-5.0M65.65 58.53h5.0M666.7 58.53h-5.0M65.65 64.41h10.0M666.7 64.41h-10.0M65.65 70.29h5.0M666.7 70.29h-5.0M65.65 76.17h5.0M666.7 76.17h-5.0M65.65 82.06h5.0M666.7 82.06h-5.0M65.65 87.94h5.0M666.7 87.94h-5.0M65.65 93.82h10.0M666.7 93.82h-10.0M65.65 99.7h5.0M666.7 99.7h-5.0M65.65 105.58h5.0M666.7 105.58h-5.0M65.65 111.47h5.0M666.7 111.47h-5.0M65.65 117.35h5.0M666.7 117.35h-5.0M65.65 123.23h10.0M666.7 123.23h-10.0M65.65 129.11h5.0M666.7 129.11h-5.0M65.65 134.99h5.0M666.7 134.99h-5.0M65.65 140.88h5.0M666.7 140.88h-5.0M65.65 146.76h5.0M666.7 146.76h-5.0M65.65 152.64h10.0M666.7 152.64h-10.0M65.65 158.52h5.0M666.7 158.52h-5.0M65.65 164.4h5.0M666.7 164.4h-5.0M65.65 170.29h5.0M666.7 170.29h-5.0M65.65 176.17h5.0M666.7 176.17h-5.0M65.65 182.05h10.0M666.7 182.05h-10.0M65.65 187.93h5.0M666.7 187.93h-5.0M65.65 193.81h5.0M666.7 193.81h-5.0M65.65 199.7h5.0M666.7 199.7h-5.0M65.65 205.58h5.0M666.7 205.58h-5.0M65.65 211.46h10.0M666.7 211.46h-10.0M65.65 217.34h5.0M666.7 217.34h-5.0M65.65 223.22h5.0M666.7 223.22h-5.0M65.65 229.11h5.0M666.7 229.11h-5.0M65.65 234.99h5.0M666.7 234.99h-5.0M65.65 240.87h10.0M666.7 240.87h-10.0M65.65 246.75h5.0M666.7 246.75h-5.0M65.65 252.63h5.0M666.7 252.63h-5.0M65.65 258.52h5.0M666.7 258.52h-5.0M65.65 264.4h5.0M666.7 264.4h-5.0M65.65 270.28h10.0M666.7 270.28h-10.0M65.65 276.16h5.0M666.7 276.16h-5.0M65.65 282.04h5.0M666.7 282.04h-5.0M65.65 287.93h5.0M666.7 287.93h-5.0M65.65 293.81h5.0M666.7 293.81h-5.0M65.65 299.69h10.0M666.7 299.69h-10.0M65.65 305.57h5.0M666.7 305.57h-5.0M65.65 311.45h5.0M666.7 311.45h-5.0M65.65 317.34h5.0M666.7 317.34h-5.0M65.65 323.22h5.0M666.7 323.22h-5.0M65.65 329.1h10.0M666.7 329.1h-10.0M65.65 334.98h5.0M666.7 334.98h-5.0M65.65 340.86h5.0M666.7 340.86h-5.0M65.65 346.75h5.0M666.7 346.75h-5.0M65.65 352.63h5.0M666.7 352.63h-5.0M65.65 358.51h10.0M666.7 358.51h-10.0M65.65 364.39h5.0M666.7 364.39h-5.0M65.65 370.27h5.0M666.7 370.27h-5.0" fill="none" stroke="#000" stroke-width="1.15"/>
<g font-size="14" fill="#111"><text x="109.65" y="399.4" text-anchor="middle" letter-spacing="0.5">0.0</text><text x="179.55" y="399.4" text-anchor="middle" letter-spacing="0.5">0.5</text><text x="249.45" y="399.4" text-anchor="middle" letter-spacing="0.5">1.0</text><text x="319.35" y="399.4" text-anchor="middle" letter-spacing="0.5">1.5</text><text x="389.25" y="399.4" text-anchor="middle" letter-spacing="0.5">2.0</text><text x="459.15" y="399.4" text-anchor="middle" letter-spacing="0.5">2.5</text><text x="529.05" y="399.4" text-anchor="middle" letter-spacing="0.5">3.0</text><text x="598.95" y="399.4" text-anchor="middle" letter-spacing="0.5">3.5</text><text x="668.85" y="399.4" text-anchor="middle" letter-spacing="0.5">4.0</text><text x="54.25" y="363.01" text-anchor="end" letter-spacing="0.5">1.6</text><text x="54.25" y="333.6" text-anchor="end" letter-spacing="0.5">1.8</text><text x="54.25" y="304.19" text-anchor="end" letter-spacing="0.5">2.0</text><text x="54.25" y="274.78" text-anchor="end" letter-spacing="0.5">2.2</text><text x="54.25" y="245.37" text-anchor="end" letter-spacing="0.5">2.4</text><text x="54.25" y="215.96" text-anchor="end" letter-spacing="0.5">2.6</text><text x="54.25" y="186.55" text-anchor="end" letter-spacing="0.5">2.8</text><text x="54.25" y="157.14" text-anchor="end" letter-spacing="0.5">3.0</text><text x="54.25" y="127.73" text-anchor="end" letter-spacing="0.5">3.2</text><text x="54.25" y="98.32" text-anchor="end" letter-spacing="0.5">3.4</text><text x="54.25" y="68.91" text-anchor="end" letter-spacing="0.5">3.6</text><text x="54.25" y="39.5" text-anchor="end" letter-spacing="0.5">3.8</text><text x="54.25" y="10.09" text-anchor="end" letter-spacing="0.5">4.0</text></g>
<text x="348.45" y="417.80" font-size="14" fill="#111">Log</text>
<text transform="translate(375.79,418.10) scale(1.256,1)" font-size="15" font-family="Liberation Serif" font-style="italic" fill="#111">τ</text>
<g transform="translate(17.6,0) rotate(-90)"><text x="-255.95" y="0.00" font-size="14" letter-spacing="0.396" fill="#111">Log</text><text x="-228.41" y="0.00" font-size="14" fill="#111">C</text><text x="-217.82" y="1.80" font-size="10" fill="#111">P</text><text x="-211.07" y="0.00" font-size="14" fill="#111">(</text><text transform="translate(-205.87,-0.40) scale(1.129,1)" font-size="15" font-family="Liberation Serif" font-style="italic" fill="#111">τ</text><text x="-198.78" y="0.00" font-size="14" fill="#111">)</text><text x="-190.90" y="0.00" font-size="14" letter-spacing="0.342" fill="#111">[J/(mol K)]</text></g>
<text x="179.51" y="54.20" font-size="14" letter-spacing="0.363" fill="#111">Isobaric</text>
<text x="233.23" y="54.20" font-size="14" letter-spacing="0.342" fill="#111">heat</text>
<text x="265.61" y="54.20" font-size="14" letter-spacing="0.138" fill="#111">capacity</text>
<text x="322.39" y="54.20" font-size="14" fill="#111">C</text>
<text x="331.56" y="54.70" font-size="9.0" fill="#111">P</text>
<text x="338.93" y="54.20" font-size="14" fill="#111">(</text>
<text transform="translate(344.28,54.20) scale(0.965,1)" font-size="15" font-family="Liberation Serif" font-style="italic" fill="#111">τ</text>
<text x="351.22" y="54.20" font-size="14" fill="#111">)</text>
<text x="355.74" y="54.20" font-size="14" fill="#111">,</text>
<text transform="translate(363.66,54.20) scale(1.038,1)" font-size="15" font-family="Liberation Serif" font-style="italic" fill="#111">τ</text>
<text x="374.72" y="54.20" font-size="14" fill="#111">=</text>
<text x="388.03" y="54.20" font-size="14" letter-spacing="0.208" fill="#111">1/|T</text>
<text x="416.50" y="54.20" font-size="14" fill="#111">/</text>
<text x="425.29" y="54.20" font-size="14" fill="#111">T</text>
<text x="433.48" y="56.70" font-size="10" fill="#111">c</text>
<text x="439.81" y="54.20" font-size="14" letter-spacing="-1.088" fill="#111">−1</text>
<text x="456.15" y="54.20" font-size="14" fill="#111">|</text>
<text x="459.74" y="54.20" font-size="14" fill="#111">,</text>
<text x="179.81" y="76.70" font-size="14" letter-spacing="0.292" fill="#111">of</text>
<text x="196.62" y="76.70" font-size="14" letter-spacing="-0.081" fill="#111">water</text>
<text x="234.66" y="76.70" font-size="14" letter-spacing="0.949" fill="#111">in</text>
<text x="251.09" y="76.70" font-size="14" letter-spacing="-0.114" fill="#111">the</text>
<text x="274.46" y="76.70" font-size="14" letter-spacing="0.201" fill="#111">intervals</text>
<text x="331.90" y="76.70" font-size="14" fill="#111">[</text>
<text x="336.99" y="76.70" font-size="14" fill="#111">T</text>
<text x="372.89" y="76.70" font-size="14" fill="#111">T</text>
<text x="389.49" y="76.70" font-size="14" fill="#111">]</text>
<text x="396.01" y="76.70" font-size="14" letter-spacing="0.469" fill="#111">and</text>
<text x="424.50" y="76.70" font-size="14" fill="#111">[</text>
<text x="428.69" y="76.70" font-size="14" fill="#111">T</text>
<text x="452.23" y="76.70" font-size="14" letter-spacing="0.112" fill="#111">1273</text>
<text x="487.15" y="76.70" font-size="14" fill="#111">K</text>
<text x="498.29" y="76.70" font-size="14" fill="#111">]</text>
<text x="344.94" y="79.80" font-size="10" letter-spacing="-0.085" fill="#111">melt</text>
<text x="365.30" y="79.80" font-size="10" fill="#111">,</text>
<text x="381.38" y="79.80" font-size="10" fill="#111">c</text>
<text x="437.08" y="79.80" font-size="10" fill="#111">c</text>
<text x="443.70" y="79.80" font-size="10" fill="#111">,</text>
<text x="458.92" y="143.00" font-size="12.3" letter-spacing="0.079" fill="#111">T &gt; T</text>
<text x="487.80" y="144.80" font-size="9.5" fill="#111">c</text>
<text x="458.92" y="216.30" font-size="12.3" letter-spacing="0.029" fill="#111">T &lt; T</text>
<text x="487.80" y="218.10" font-size="9.5" fill="#111">c</text>
<text x="140.73" y="210.60" font-size="12.0" fill="#111">T</text>
<text x="148.38" y="213.00" font-size="9.3" letter-spacing="-0.661" fill="#111">melt</text>
<text x="167.80" y="210.60" font-size="12.3" fill="#111">=</text>
<text x="178.78" y="210.60" font-size="12.3" letter-spacing="-0.172" fill="#111">273.16</text>
<text x="218.19" y="210.60" font-size="12.3" fill="#111">K</text>
<text x="95.76" y="260.50" font-size="12.3" letter-spacing="-0.242" fill="#111">1273 K</text>
<path d="M545.5 478.3h5.4v5.4h-5.4zM508.68 492h5.4v5.4h-5.4zM485.59 493h5.4v5.4h-5.4zM468.74 492.26h5.4v5.4h-5.4zM455.45 490.9h5.4v5.4h-5.4zM444.48 489.4h5.4v5.4h-5.4zM435.14 488.1h5.4v5.4h-5.4zM427.01 487h5.4v5.4h-5.4zM419.81 486.2h5.4v5.4h-5.4zM413.35 485.4h5.4v5.4h-5.4zM407.48 484.91h5.4v5.4h-5.4zM402.12 484.6h5.4v5.4h-5.4zM397.18 484.1h5.4v5.4h-5.4zM392.6 484.1h5.4v5.4h-5.4zM388.33 484.04h5.4v5.4h-5.4zM384.33 483.85h5.4v5.4h-5.4zM380.57 483.61h5.4v5.4h-5.4zM377.02 483.67h5.4v5.4h-5.4zM373.66 483.86h5.4v5.4h-5.4zM370.47 484.07h5.4v5.4h-5.4zM367.43 484.24h5.4v5.4h-5.4zM364.54 484.42h5.4v5.4h-5.4zM361.77 484.59h5.4v5.4h-5.4zM359.12 484.77h5.4v5.4h-5.4zM356.57 484.94h5.4v5.4h-5.4zM354.12 485.1h5.4v5.4h-5.4zM351.77 485.26h5.4v5.4h-5.4zM349.5 485.42h5.4v5.4h-5.4zM347.31 485.56h5.4v5.4h-5.4zM345.19 485.7h5.4v5.4h-5.4zM343.14 485.83h5.4v5.4h-5.4zM341.16 485.95h5.4v5.4h-5.4zM339.23 486.06h5.4v5.4h-5.4zM337.37 486.17h5.4v5.4h-5.4zM335.55 486.28h5.4v5.4h-5.4zM333.79 486.38h5.4v5.4h-5.4zM332.08 486.48h5.4v5.4h-5.4zM330.41 486.59h5.4v5.4h-5.4zM328.78 486.7h5.4v5.4h-5.4zM327.2 486.81h5.4v5.4h-5.4zM325.65 486.93h5.4v5.4h-5.4zM324.14 487.06h5.4v5.4h-5.4zM322.67 487.2h5.4v5.4h-5.4zM321.23 487.34h5.4v5.4h-5.4zM319.82 487.48h5.4v5.4h-5.4zM318.44 487.61h5.4v5.4h-5.4zM317.09 487.74h5.4v5.4h-5.4zM315.77 487.85h5.4v5.4h-5.4zM314.48 487.96h5.4v5.4h-5.4zM313.22 488.05h5.4v5.4h-5.4zM311.97 488.12h5.4v5.4h-5.4zM310.76 488.19h5.4v5.4h-5.4zM309.56 488.25h5.4v5.4h-5.4zM308.39 488.32h5.4v5.4h-5.4zM307.24 488.38h5.4v5.4h-5.4zM306.11 488.45h5.4v5.4h-5.4zM305 488.5h5.4v5.4h-5.4zM303.91 488.56h5.4v5.4h-5.4zM302.83 488.61h5.4v5.4h-5.4zM301.78 488.65h5.4v5.4h-5.4zM300.74 488.69h5.4v5.4h-5.4zM299.72 488.72h5.4v5.4h-5.4zM298.72 488.75h5.4v5.4h-5.4zM297.73 488.77h5.4v5.4h-5.4zM296.76 488.79h5.4v5.4h-5.4zM295.8 488.8h5.4v5.4h-5.4zM294.86 488.8h5.4v5.4h-5.4zM293.93 488.8h5.4v5.4h-5.4zM293.01 488.79h5.4v5.4h-5.4zM292.11 488.77h5.4v5.4h-5.4zM291.21 488.76h5.4v5.4h-5.4zM290.34 488.73h5.4v5.4h-5.4zM289.47 488.71h5.4v5.4h-5.4zM288.62 488.68h5.4v5.4h-5.4zM287.77 488.65h5.4v5.4h-5.4zM286.94 488.61h5.4v5.4h-5.4zM286.12 488.58h5.4v5.4h-5.4zM285.31 488.54h5.4v5.4h-5.4zM284.51 488.5h5.4v5.4h-5.4zM278.45 488.17h5.4v5.4h-5.4zM273.25 487.79h5.4v5.4h-5.4zM268.45 487.29h5.4v5.4h-5.4zM263.99 486.79h5.4v5.4h-5.4zM259.83 486.39h5.4v5.4h-5.4zM255.92 486.06h5.4v5.4h-5.4zM252.24 485.72h5.4v5.4h-5.4zM248.77 485.4h5.4v5.4h-5.4zM245.47 485.13h5.4v5.4h-5.4zM242.34 484.91h5.4v5.4h-5.4zM239.36 484.74h5.4v5.4h-5.4zM236.51 484.64h5.4v5.4h-5.4zM233.79 484.6h5.4v5.4h-5.4zM231.18 484.6h5.4v5.4h-5.4zM228.67 484.62h5.4v5.4h-5.4zM226.26 484.64h5.4v5.4h-5.4zM223.94 484.67h5.4v5.4h-5.4zM221.7 484.71h5.4v5.4h-5.4zM219.53 484.74h5.4v5.4h-5.4zM217.44 484.79h5.4v5.4h-5.4zM215.42 484.83h5.4v5.4h-5.4zM213.46 484.87h5.4v5.4h-5.4zM211.55 484.92h5.4v5.4h-5.4zM209.71 484.99h5.4v5.4h-5.4zM207.91 485.07h5.4v5.4h-5.4zM206.17 485.17h5.4v5.4h-5.4zM204.47 485.28h5.4v5.4h-5.4zM202.82 485.4h5.4v5.4h-5.4zM201.21 485.51h5.4v5.4h-5.4zM199.64 485.63h5.4v5.4h-5.4zM198.11 485.75h5.4v5.4h-5.4zM196.61 485.86h5.4v5.4h-5.4zM195.15 485.99h5.4v5.4h-5.4zM193.72 486.12h5.4v5.4h-5.4zM192.33 486.27h5.4v5.4h-5.4zM190.96 486.41h5.4v5.4h-5.4zM189.62 486.56h5.4v5.4h-5.4zM188.32 486.7h5.4v5.4h-5.4zM187.03 486.84h5.4v5.4h-5.4zM185.78 486.98h5.4v5.4h-5.4zM184.54 487.1h5.4v5.4h-5.4zM183.33 487.22h5.4v5.4h-5.4zM182.15 487.33h5.4v5.4h-5.4zM180.98 487.42h5.4v5.4h-5.4zM179.84 487.5h5.4v5.4h-5.4zM178.72 487.58h5.4v5.4h-5.4zM177.62 487.66h5.4v5.4h-5.4zM176.53 487.73h5.4v5.4h-5.4zM175.47 487.81h5.4v5.4h-5.4zM174.42 487.88h5.4v5.4h-5.4zM173.39 487.95h5.4v5.4h-5.4zM172.37 488.02h5.4v5.4h-5.4zM171.38 488.08h5.4v5.4h-5.4zM170.39 488.14h5.4v5.4h-5.4zM169.43 488.19h5.4v5.4h-5.4zM168.47 488.24h5.4v5.4h-5.4zM167.53 488.28h5.4v5.4h-5.4zM166.61 488.32h5.4v5.4h-5.4zM165.7 488.35h5.4v5.4h-5.4zM164.8 488.37h5.4v5.4h-5.4zM163.91 488.39h5.4v5.4h-5.4zM163.04 488.4h5.4v5.4h-5.4zM162.18 488.4h5.4v5.4h-5.4zM161.33 488.4h5.4v5.4h-5.4zM160.49 488.4h5.4v5.4h-5.4zM159.66 488.39h5.4v5.4h-5.4zM158.84 488.39h5.4v5.4h-5.4zM158.04 488.38h5.4v5.4h-5.4zM157.24 488.37h5.4v5.4h-5.4zM156.45 488.36h5.4v5.4h-5.4zM155.68 488.35h5.4v5.4h-5.4zM154.91 488.34h5.4v5.4h-5.4zM154.15 488.32h5.4v5.4h-5.4zM153.4 488.31h5.4v5.4h-5.4zM152.66 488.3h5.4v5.4h-5.4zM151.93 488.28h5.4v5.4h-5.4zM151.21 488.27h5.4v5.4h-5.4zM150.49 488.25h5.4v5.4h-5.4zM149.79 488.23h5.4v5.4h-5.4zM149.09 488.22h5.4v5.4h-5.4zM148.4 488.2h5.4v5.4h-5.4zM147.71 488.18h5.4v5.4h-5.4zM147.04 488.16h5.4v5.4h-5.4zM146.37 488.14h5.4v5.4h-5.4zM145.7 488.12h5.4v5.4h-5.4zM145.05 488.1h5.4v5.4h-5.4zM144.4 488.08h5.4v5.4h-5.4zM143.76 488.05h5.4v5.4h-5.4zM143.12 488h5.4v5.4h-5.4zM142.49 487.94h5.4v5.4h-5.4zM141.87 487.88h5.4v5.4h-5.4zM141.25 487.81h5.4v5.4h-5.4zM140.64 487.73h5.4v5.4h-5.4zM140.04 487.65h5.4v5.4h-5.4zM139.44 487.56h5.4v5.4h-5.4zM138.84 487.47h5.4v5.4h-5.4zM138.26 487.38h5.4v5.4h-5.4zM137.67 487.29h5.4v5.4h-5.4zM137.09 487.2h5.4v5.4h-5.4zM136.52 487.1h5.4v5.4h-5.4zM135.96 487.01h5.4v5.4h-5.4zM135.39 486.92h5.4v5.4h-5.4zM134.84 486.83h5.4v5.4h-5.4zM134.28 486.74h5.4v5.4h-5.4zM133.74 486.66h5.4v5.4h-5.4zM133.19 486.58h5.4v5.4h-5.4zM132.66 486.51h5.4v5.4h-5.4zM132.12 486.44h5.4v5.4h-5.4zM131.59 486.38h5.4v5.4h-5.4zM131.07 486.32h5.4v5.4h-5.4zM130.55 486.26h5.4v5.4h-5.4zM130.03 486.22h5.4v5.4h-5.4zM129.52 486.18h5.4v5.4h-5.4zM129.01 486.15h5.4v5.4h-5.4zM128.51 486.12h5.4v5.4h-5.4zM128.01 486.11h5.4v5.4h-5.4zM127.52 486.1h5.4v5.4h-5.4zM127.02 486.1h5.4v5.4h-5.4zM126.54 486.1h5.4v5.4h-5.4zM126.05 486.1h5.4v5.4h-5.4zM125.57 486.1h5.4v5.4h-5.4zM125.09 486.11h5.4v5.4h-5.4zM124.62 486.11h5.4v5.4h-5.4zM124.15 486.11h5.4v5.4h-5.4zM123.68 486.12h5.4v5.4h-5.4zM123.22 486.12h5.4v5.4h-5.4zM122.76 486.13h5.4v5.4h-5.4zM122.31 486.14h5.4v5.4h-5.4zM121.85 486.14h5.4v5.4h-5.4zM121.4 486.15h5.4v5.4h-5.4zM120.96 486.16h5.4v5.4h-5.4zM120.51 486.17h5.4v5.4h-5.4zM120.07 486.17h5.4v5.4h-5.4zM119.64 486.18h5.4v5.4h-5.4zM119.2 486.19h5.4v5.4h-5.4zM118.77 486.2h5.4v5.4h-5.4zM118.34 486.21h5.4v5.4h-5.4zM117.92 486.22h5.4v5.4h-5.4zM117.49 486.23h5.4v5.4h-5.4zM117.07 486.25h5.4v5.4h-5.4zM116.66 486.26h5.4v5.4h-5.4zM116.24 486.27h5.4v5.4h-5.4zM115.83 486.28h5.4v5.4h-5.4zM115.42 486.29h5.4v5.4h-5.4zM115.02 486.31h5.4v5.4h-5.4zM114.61 486.32h5.4v5.4h-5.4zM114.21 486.33h5.4v5.4h-5.4zM113.81 486.35h5.4v5.4h-5.4zM113.42 486.36h5.4v5.4h-5.4zM113.02 486.37h5.4v5.4h-5.4zM112.63 486.39h5.4v5.4h-5.4zM112.24 486.4h5.4v5.4h-5.4zM111.86 486.42h5.4v5.4h-5.4zM111.47 486.43h5.4v5.4h-5.4zM111.09 486.45h5.4v5.4h-5.4zM110.71 486.46h5.4v5.4h-5.4zM110.34 486.48h5.4v5.4h-5.4zM109.96 486.49h5.4v5.4h-5.4zM109.59 486.51h5.4v5.4h-5.4zM109.22 486.53h5.4v5.4h-5.4zM108.85 486.56h5.4v5.4h-5.4zM108.48 486.58h5.4v5.4h-5.4zM108.12 486.62h5.4v5.4h-5.4zM107.76 486.65h5.4v5.4h-5.4zM107.4 486.69h5.4v5.4h-5.4zM107.04 486.74h5.4v5.4h-5.4zM106.68 486.78h5.4v5.4h-5.4zM106.33 486.83h5.4v5.4h-5.4zM105.98 486.89h5.4v5.4h-5.4zM105.63 486.94h5.4v5.4h-5.4zM105.28 487h5.4v5.4h-5.4zM104.94 487.06h5.4v5.4h-5.4zM104.59 487.12h5.4v5.4h-5.4zM104.25 487.19h5.4v5.4h-5.4zM103.91 487.25h5.4v5.4h-5.4zM103.57 487.32h5.4v5.4h-5.4zM103.23 487.39h5.4v5.4h-5.4zM102.9 487.46h5.4v5.4h-5.4zM102.57 487.54h5.4v5.4h-5.4zM102.23 487.61h5.4v5.4h-5.4zM101.9 487.69h5.4v5.4h-5.4zM101.58 487.77h5.4v5.4h-5.4zM101.25 487.85h5.4v5.4h-5.4zM100.93 487.93h5.4v5.4h-5.4zM100.6 488.01h5.4v5.4h-5.4zM100.28 488.09h5.4v5.4h-5.4zM99.96 488.17h5.4v5.4h-5.4zM99.64 488.25h5.4v5.4h-5.4zM99.33 488.33h5.4v5.4h-5.4zM99.01 488.42h5.4v5.4h-5.4zM98.7 488.5h5.4v5.4h-5.4zM98.39 488.59h5.4v5.4h-5.4zM98.08 488.67h5.4v5.4h-5.4zM97.77 488.75h5.4v5.4h-5.4zM97.46 488.84h5.4v5.4h-5.4zM97.16 488.92h5.4v5.4h-5.4zM96.85 489.01h5.4v5.4h-5.4zM96.55 489.09h5.4v5.4h-5.4z" fill="#000"/><path d="M546.15 478.95H550.25V483.05H546.15zM509.33 492.65H513.43V496.75H509.33zM486.24 493.65H490.34V497.75H486.24zM469.39 492.91H473.49V497.01H469.39zM456.1 491.55H460.2V495.65H456.1zM445.13 490.05H449.23V494.15H445.13zM435.79 488.75H439.89V492.85H435.79zM427.66 487.65H431.76V491.75H427.66zM420.46 486.85H424.56V490.95H420.46zM414 486.05H418.1V490.15H414zM408.13 485.56H412.23V489.66H408.13zM402.77 485.25H406.87V489.35H402.77zM398 484.75H401.93V488.85H398zM393.73 484.75H397.35V488.85H393.73zM389.73 484.69H393.08V488.79H389.73zM385.97 484.5H389.08V488.6H385.97zM382.42 484.26H385.32V488.36H382.42zM379.06 484.32H381.77V488.42H379.06zM375.87 484.51H378.41V488.61H375.87zM372.83 484.72H375.22V488.82H372.83zM369.94 484.89H372.18V488.99H369.94zM367.17 485.07H369.29V489.17H367.17zM364.52 485.24H366.52V489.34H364.52zM361.97 485.42H363.87V489.52H361.97zM359.52 485.59H361.32V489.69H359.52zM357.17 485.75H358.87V489.85H357.17zM354.9 485.91H356.52V490.01H354.9zM352.71 486.07H354.25V490.17H352.71zM350.59 486.21H352.06V490.31H350.59zM348.54 486.35H349.94V490.45H348.54zM346.56 486.48H347.89V490.58H346.56zM344.63 486.6H345.91V490.7H344.63zM342.77 486.71H343.98V490.81H342.77zM340.95 486.82H342.12V490.92H340.95zM339.19 486.93H340.3V491.03H339.19zM337.48 487.03H338.54V491.13H337.48zM335.81 487.13H336.83V491.23H335.81zM334.18 487.24H335.16V491.34H334.18zM332.6 487.35H333.53V491.45H332.6zM331.05 487.46H331.95V491.56H331.05zM329.54 487.58H330.4V491.68H329.54zM328.07 487.71H328.89V491.81H328.07zM326.63 487.85H327.42V491.95H326.63zM325.22 487.99H325.98V492.09H325.22zM323.84 488.13H324.57V492.23H323.84zM322.49 488.26H323.19V492.36H322.49zM321.17 488.39H321.84V492.49H321.17zM319.88 488.5H320.52V492.6H319.88zM318.62 488.61H319.23V492.71H318.62zM317.37 488.7H317.97V492.8H317.37zM316.16 488.77H316.72V492.87H316.16zM314.96 488.84H315.51V492.94H314.96zM313.79 488.9H314.31V493H313.79zM312.64 488.97H313.14V493.07H312.64zM311.51 489.03H311.99V493.13H311.51zM310.4 489.1H310.86V493.2H310.4zM309.31 489.15H309.75V493.25H309.31zM308.23 489.21H308.66V493.31H308.23zM307.18 489.26H307.58V493.36H307.18zM306.14 489.3H306.53V493.4H306.14zM305.12 489.34H305.49V493.44H305.12zM304.12 489.37H304.47V493.47H304.12zM303.13 489.4H303.47V493.5H303.13zM302.16 489.42H302.48V493.52H302.16zM301.2 489.44H301.51V493.54H301.2zM300.26 489.45H300.55V493.55H300.26zM299.33 489.45H299.61V493.55H299.33zM298.41 489.45H298.68V493.55H298.41zM297.51 489.44H297.76V493.54H297.51zM296.61 489.42H296.86V493.52H296.61zM295.74 489.41H295.96V493.51H295.74zM294.87 489.38H295.09V493.48H294.87zM294.02 489.36H294.22V493.46H294.02zM293.17 489.33H293.37V493.43H293.17zM292.34 489.3H292.52V493.4H292.34zM291.52 489.26H291.69V493.36H291.52zM290.71 489.23H290.87V493.33H290.71zM289.91 489.19H290.06V493.29H289.91zM285.16 489.15H289.26V493.25H285.16zM279.1 488.82H283.2V492.92H279.1zM273.9 488.44H278V492.54H273.9zM269.39 487.94H273.2V492.04H269.39zM265.23 487.44H268.74V491.54H265.23zM261.32 487.04H264.58V491.14H261.32zM257.64 486.71H260.67V490.81H257.64zM254.17 486.37H256.99V490.47H254.17zM250.87 486.05H253.52V490.15H250.87zM247.74 485.78H250.22V489.88H247.74zM244.76 485.56H247.09V489.66H244.76zM241.91 485.39H244.11V489.49H241.91zM239.19 485.29H241.26V489.39H239.19zM236.58 485.25H238.54V489.35H236.58zM234.07 485.25H235.93V489.35H234.07zM231.66 485.27H233.42V489.37H231.66zM229.34 485.29H231.01V489.39H229.34zM227.1 485.32H228.69V489.42H227.1zM224.93 485.36H226.45V489.46H224.93zM222.84 485.39H224.28V489.49H222.84zM220.82 485.44H222.19V489.54H220.82zM218.86 485.48H220.17V489.58H218.86zM216.95 485.52H218.21V489.62H216.95zM215.11 485.57H216.3V489.67H215.11zM213.31 485.64H214.46V489.74H213.31zM211.57 485.72H212.66V489.82H211.57zM209.87 485.82H210.92V489.92H209.87zM208.22 485.93H209.22V490.03H208.22zM206.61 486.05H207.57V490.15H206.61zM205.04 486.16H205.96V490.26H205.04zM203.51 486.28H204.39V490.38H203.51zM202.01 486.4H202.86V490.5H202.01zM200.55 486.51H201.36V490.61H200.55zM199.12 486.64H199.9V490.74H199.12zM197.73 486.77H198.47V490.87H197.73zM196.36 486.92H197.08V491.02H196.36zM195.02 487.06H195.71V491.16H195.02zM193.72 487.21H194.37V491.31H193.72zM192.43 487.35H193.07V491.45H192.43zM191.18 487.49H191.78V491.59H191.18zM189.94 487.63H190.53V491.73H189.94zM188.73 487.75H189.29V491.85H188.73zM187.55 487.87H188.08V491.97H187.55zM186.38 487.98H186.9V492.08H186.38zM185.24 488.07H185.73V492.17H185.24zM184.12 488.15H184.59V492.25H184.12zM183.02 488.23H183.47V492.33H183.02zM181.93 488.31H182.37V492.41H181.93zM180.87 488.38H181.28V492.48H180.87zM179.82 488.46H180.22V492.56H179.82zM178.79 488.53H179.17V492.63H178.79zM177.77 488.6H178.14V492.7H177.77zM176.78 488.67H177.12V492.77H176.78zM175.79 488.73H176.13V492.83H175.79zM174.83 488.79H175.14V492.89H174.83zM173.87 488.84H174.18V492.94H173.87zM172.93 488.89H173.22V492.99H172.93zM172.01 488.93H172.28V493.03H172.01zM171.1 488.97H171.36V493.07H171.1zM170.2 489H170.45V493.1H170.2zM169.31 489.02H169.55V493.12H169.31zM168.44 489.04H168.66V493.14H168.44zM167.58 489.05H167.79V493.15H167.58zM166.73 489.05H166.93V493.15H166.73zM165.89 489.05H166.08V493.15H165.89zM165.06 489.05H165.24V493.15H165.06zM164.24 489.04H164.41V493.14H164.24zM163.44 489.04H163.59V493.14H163.44zM162.64 489.03H162.79V493.13H162.64zM161.85 489.02H161.99V493.12H161.85zM161.08 489.01H161.2V493.11H161.08zM160.31 489H160.43V493.1H160.31zM159.55 488.99H159.66V493.09H159.55zM158.8 488.97H158.9V493.07H158.8zM158.06 488.96H158.15V493.06H158.06zM157.33 488.95H157.41V493.05H157.33zM156.61 488.93H156.68V493.03H156.61zM155.89 488.92H155.96V493.02H155.89zM97.2 489.74H101.3V493.84H97.2z" fill="#fff"/>
<path d="M53.6 439.3H677.6V538.5H53.6ZM68.13 538.5v-5.2M68.13 439.3v5.2M82.64 538.5v-5.2M82.64 439.3v5.2M97.15 538.5v-10.0M97.15 439.3v10.0M111.66 538.5v-5.2M111.66 439.3v5.2M126.17 538.5v-5.2M126.17 439.3v5.2M140.68 538.5v-5.2M140.68 439.3v5.2M155.19 538.5v-5.2M155.19 439.3v5.2M169.7 538.5v-10.0M169.7 439.3v10.0M184.21 538.5v-5.2M184.21 439.3v5.2M198.72 538.5v-5.2M198.72 439.3v5.2M213.23 538.5v-5.2M213.23 439.3v5.2M227.74 538.5v-5.2M227.74 439.3v5.2M242.25 538.5v-10.0M242.25 439.3v10.0M256.76 538.5v-5.2M256.76 439.3v5.2M271.27 538.5v-5.2M271.27 439.3v5.2M285.78 538.5v-5.2M285.78 439.3v5.2M300.29 538.5v-5.2M300.29 439.3v5.2M314.8 538.5v-10.0M314.8 439.3v10.0M329.31 538.5v-5.2M329.31 439.3v5.2M343.82 538.5v-5.2M343.82 439.3v5.2M358.33 538.5v-5.2M358.33 439.3v5.2M372.84 538.5v-5.2M372.84 439.3v5.2M387.35 538.5v-10.0M387.35 439.3v10.0M401.86 538.5v-5.2M401.86 439.3v5.2M416.37 538.5v-5.2M416.37 439.3v5.2M430.88 538.5v-5.2M430.88 439.3v5.2M445.39 538.5v-5.2M445.39 439.3v5.2M459.9 538.5v-10.0M459.9 439.3v10.0M474.41 538.5v-5.2M474.41 439.3v5.2M488.92 538.5v-5.2M488.92 439.3v5.2M503.43 538.5v-5.2M503.43 439.3v5.2M517.94 538.5v-5.2M517.94 439.3v5.2M532.45 538.5v-10.0M532.45 439.3v10.0M546.96 538.5v-5.2M546.96 439.3v5.2M561.47 538.5v-5.2M561.47 439.3v5.2M575.98 538.5v-5.2M575.98 439.3v5.2M590.49 538.5v-5.2M590.49 439.3v5.2M605 538.5v-10.0M605 439.3v10.0M619.51 538.5v-5.2M619.51 439.3v5.2M634.02 538.5v-5.2M634.02 439.3v5.2M648.53 538.5v-5.2M648.53 439.3v5.2M663.04 538.5v-5.2M663.04 439.3v5.2M677.55 538.5v-10.0M677.55 439.3v10.0M53.6 439.3h10.0M677.6 439.3h-10.0M53.6 444.26h5.0M677.6 444.26h-5.0M53.6 449.22h5.0M677.6 449.22h-5.0M53.6 454.18h5.0M677.6 454.18h-5.0M53.6 459.14h5.0M677.6 459.14h-5.0M53.6 464.1h10.0M677.6 464.1h-10.0M53.6 469.06h5.0M677.6 469.06h-5.0M53.6 474.02h5.0M677.6 474.02h-5.0M53.6 478.98h5.0M677.6 478.98h-5.0M53.6 483.94h5.0M677.6 483.94h-5.0M53.6 488.9h10.0M677.6 488.9h-10.0M53.6 493.86h5.0M677.6 493.86h-5.0M53.6 498.82h5.0M677.6 498.82h-5.0M53.6 503.78h5.0M677.6 503.78h-5.0M53.6 508.74h5.0M677.6 508.74h-5.0M53.6 513.7h10.0M677.6 513.7h-10.0M53.6 518.66h5.0M677.6 518.66h-5.0M53.6 523.62h5.0M677.6 523.62h-5.0M53.6 528.58h5.0M677.6 528.58h-5.0M53.6 533.54h5.0M677.6 533.54h-5.0M53.6 538.5h10.0M677.6 538.5h-10.0" fill="none" stroke="#5a5a5a" stroke-width="1.1"/>
<g font-size="10" fill="#222"><text x="98.7" y="558.3" text-anchor="middle" font-size="9.5" letter-spacing="0.5">0.0</text><text x="171.25" y="558.3" text-anchor="middle" font-size="9.5" letter-spacing="0.5">0.5</text><text x="243.8" y="558.3" text-anchor="middle" font-size="9.5" letter-spacing="0.5">1.0</text><text x="316.35" y="558.3" text-anchor="middle" font-size="9.5" letter-spacing="0.5">1.5</text><text x="388.9" y="558.3" text-anchor="middle" font-size="9.5" letter-spacing="0.5">2.0</text><text x="461.45" y="558.3" text-anchor="middle" font-size="9.5" letter-spacing="0.5">2.5</text><text x="534" y="558.3" text-anchor="middle" font-size="9.5" letter-spacing="0.5">3.0</text><text x="606.55" y="558.3" text-anchor="middle" font-size="9.5" letter-spacing="0.5">3.5</text><text x="679.1" y="558.3" text-anchor="middle" font-size="9.5" letter-spacing="0.5">4.0</text><text x="43.5" y="442.9" text-anchor="end" letter-spacing="0.3">0.02</text><text x="43.5" y="467.7" text-anchor="end" letter-spacing="0.3">0.01</text><text x="43.5" y="492.5" text-anchor="end" letter-spacing="0.3">0.00</text><text x="43.5" y="517.3" text-anchor="end" letter-spacing="0.3">−0.01</text><text x="43.5" y="542.1" text-anchor="end" letter-spacing="0.3">−0.02</text></g>
<text x="353.48" y="570.60" font-size="10" fill="#222">Log</text>
<text transform="translate(372.11,570.80) scale(1.248,1)" font-size="10.5" font-family="Liberation Serif" font-style="italic" fill="#222">τ</text>
<text x="98.60" y="467.10" font-size="9.7" letter-spacing="0.031" fill="#222">Residuals of the H</text>
<text x="177.85" y="469.10" font-size="7" fill="#222">2</text>
<text x="181.44" y="467.10" font-size="9.7" letter-spacing="-0.102" fill="#222">O isobaric heat capacity</text>
<text x="285.41" y="467.10" font-size="9.7" fill="#222">C</text>
<text x="292.31" y="468.00" font-size="7.2" fill="#222">P</text>
<text x="297.50" y="467.10" font-size="9.7" fill="#222">(</text>
<text transform="translate(299.62,467.10) scale(1.167,1)" font-size="11" font-family="Liberation Serif" font-style="italic" fill="#222">τ</text>
<text x="305.04" y="467.10" font-size="9.7" fill="#222">),</text>
<text transform="translate(313.58,467.10) scale(1.316,1)" font-size="11" font-family="Liberation Serif" font-style="italic" fill="#222">τ</text>
<text x="320.93" y="467.10" font-size="9.7" letter-spacing="-0.120" fill="#222">= 1/|T</text>
<text x="348.40" y="467.10" font-size="9.7" fill="#222">/</text>
<text x="355.18" y="467.10" font-size="9.7" fill="#222">T</text>
<text x="361.30" y="469.10" font-size="7" fill="#222">c</text>
<text x="366.02" y="467.10" font-size="9.7" letter-spacing="-1.107" fill="#222">−1</text>
<text x="375.83" y="467.10" font-size="9.7" fill="#222">|</text>
<text x="378.03" y="467.10" font-size="9.7" fill="#222">,</text>
<text x="382.88" y="467.10" font-size="9.7" letter-spacing="0.284" fill="#222">T &gt; T</text>
<text x="406.60" y="469.10" font-size="7" fill="#222">c</text>
<g transform="translate(7.8,0) rotate(-90)"><text x="-519.90" y="0" font-size="9.4" letter-spacing="-0.071" fill="#222">(C</text><text x="-510.12" y="1.3" font-size="6.8" letter-spacing="-0.071" fill="#222">P</text><text x="-505.66" y="0" font-size="9.4" letter-spacing="-0.071" fill="#222">(</text><text x="-502.60" y="0" font-size="10" font-family="Liberation Serif" font-style="italic" letter-spacing="-0.071" fill="#222">τ</text><text x="-499.09" y="1.3" font-size="6.8" letter-spacing="-0.071" fill="#222">i</text><text x="-497.65" y="0" font-size="9.4" letter-spacing="-0.071" fill="#222">)−C</text><text x="-482.46" y="1.3" font-size="6.8" letter-spacing="-0.071" fill="#222">P,i</text><text x="-474.74" y="0" font-size="9.4" letter-spacing="-0.071" fill="#222">)/C</text><text x="-462.42" y="1.3" font-size="6.8" letter-spacing="-0.071" fill="#222">P,i</text></g>
<line x1="54.2" y1="489.0" x2="677.0" y2="489.0" stroke="#ff0000" stroke-opacity="0.7" stroke-width="1"/>
<path d="M525.21 690.25h5.3v5.3h-5.3zM496.6 670.45h5.3v5.3h-5.3zM476.99 655.45h5.3v5.3h-5.3zM462.06 648.45h5.3v5.3h-5.3zM449.99 647.05h5.3v5.3h-5.3zM439.87 648.75h5.3v5.3h-5.3zM431.16 652.45h5.3v5.3h-5.3zM423.5 656.45h5.3v5.3h-5.3zM416.67 660.65h5.3v5.3h-5.3zM410.51 664.35h5.3v5.3h-5.3zM404.9 667.35h5.3v5.3h-5.3zM399.75 669.75h5.3v5.3h-5.3zM394.99 671.85h5.3v5.3h-5.3zM390.56 672.73h5.3v5.3h-5.3zM386.43 673.53h5.3v5.3h-5.3zM382.55 673.97h5.3v5.3h-5.3zM378.89 674.14h5.3v5.3h-5.3zM375.43 674.02h5.3v5.3h-5.3zM372.16 673.57h5.3v5.3h-5.3zM369.04 673.03h5.3v5.3h-5.3zM366.08 672.55h5.3v5.3h-5.3zM363.24 672.07h5.3v5.3h-5.3zM360.53 671.58h5.3v5.3h-5.3zM357.93 671.09h5.3v5.3h-5.3zM355.43 670.59h5.3v5.3h-5.3zM353.03 670.1h5.3v5.3h-5.3zM350.72 669.61h5.3v5.3h-5.3zM348.49 669.13h5.3v5.3h-5.3zM346.33 668.6h5.3v5.3h-5.3zM344.25 668.06h5.3v5.3h-5.3zM342.23 667.52h5.3v5.3h-5.3zM340.27 667.01h5.3v5.3h-5.3zM338.38 666.52h5.3v5.3h-5.3zM336.54 666.08h5.3v5.3h-5.3zM334.75 665.69h5.3v5.3h-5.3zM333.01 665.36h5.3v5.3h-5.3zM331.32 665.08h5.3v5.3h-5.3zM329.67 664.81h5.3v5.3h-5.3zM328.06 664.54h5.3v5.3h-5.3zM326.5 664.29h5.3v5.3h-5.3zM324.97 664.05h5.3v5.3h-5.3zM323.48 663.83h5.3v5.3h-5.3zM322.02 663.64h5.3v5.3h-5.3zM320.6 663.48h5.3v5.3h-5.3zM319.2 663.35h5.3v5.3h-5.3zM317.84 663.25h5.3v5.3h-5.3zM316.51 663.18h5.3v5.3h-5.3zM315.2 663.15h5.3v5.3h-5.3zM313.92 663.15h5.3v5.3h-5.3zM312.67 663.16h5.3v5.3h-5.3zM311.44 663.17h5.3v5.3h-5.3zM310.23 663.18h5.3v5.3h-5.3zM309.05 663.2h5.3v5.3h-5.3zM307.88 663.22h5.3v5.3h-5.3zM306.74 663.24h5.3v5.3h-5.3zM305.62 663.27h5.3v5.3h-5.3zM304.52 663.29h5.3v5.3h-5.3zM303.44 663.33h5.3v5.3h-5.3zM302.38 663.36h5.3v5.3h-5.3zM301.33 663.39h5.3v5.3h-5.3zM300.3 663.43h5.3v5.3h-5.3zM299.29 663.47h5.3v5.3h-5.3zM298.29 663.51h5.3v5.3h-5.3zM297.31 663.55h5.3v5.3h-5.3zM296.35 663.63h5.3v5.3h-5.3zM295.39 663.78h5.3v5.3h-5.3zM294.46 663.97h5.3v5.3h-5.3zM293.53 664.19h5.3v5.3h-5.3zM292.62 664.44h5.3v5.3h-5.3zM291.73 664.7h5.3v5.3h-5.3zM290.84 664.96h5.3v5.3h-5.3zM289.97 665.21h5.3v5.3h-5.3zM283.79 666.17h5.3v5.3h-5.3zM278.15 666.5h5.3v5.3h-5.3zM272.99 666.73h5.3v5.3h-5.3zM268.21 666.89h5.3v5.3h-5.3zM263.77 666.99h5.3v5.3h-5.3zM259.62 667.04h5.3v5.3h-5.3zM255.73 667.05h5.3v5.3h-5.3zM252.07 667.01h5.3v5.3h-5.3zM248.6 666.95h5.3v5.3h-5.3zM245.32 666.87h5.3v5.3h-5.3zM242.2 666.78h5.3v5.3h-5.3zM239.22 666.68h5.3v5.3h-5.3zM236.39 666.58h5.3v5.3h-5.3zM233.67 666.48h5.3v5.3h-5.3zM231.06 666.38h5.3v5.3h-5.3zM228.56 666.28h5.3v5.3h-5.3zM226.16 666.2h5.3v5.3h-5.3zM223.84 666.11h5.3v5.3h-5.3zM221.61 666.04h5.3v5.3h-5.3zM219.45 665.97h5.3v5.3h-5.3zM217.36 665.91h5.3v5.3h-5.3zM215.34 665.86h5.3v5.3h-5.3zM213.38 665.82h5.3v5.3h-5.3zM211.48 665.79h5.3v5.3h-5.3zM209.64 665.77h5.3v5.3h-5.3zM207.85 665.75h5.3v5.3h-5.3zM206.11 665.74h5.3v5.3h-5.3zM204.42 665.74h5.3v5.3h-5.3zM202.77 665.73h5.3v5.3h-5.3zM201.16 665.73h5.3v5.3h-5.3zM199.59 665.72h5.3v5.3h-5.3zM198.06 665.72h5.3v5.3h-5.3zM196.57 665.72h5.3v5.3h-5.3zM195.11 665.71h5.3v5.3h-5.3zM193.68 665.71h5.3v5.3h-5.3zM192.29 665.71h5.3v5.3h-5.3zM190.93 665.7h5.3v5.3h-5.3zM189.59 665.7h5.3v5.3h-5.3zM188.28 665.7h5.3v5.3h-5.3zM187 665.7h5.3v5.3h-5.3zM185.75 665.7h5.3v5.3h-5.3zM184.52 665.69h5.3v5.3h-5.3zM183.31 665.69h5.3v5.3h-5.3zM182.12 665.69h5.3v5.3h-5.3zM180.96 665.69h5.3v5.3h-5.3zM179.82 665.69h5.3v5.3h-5.3zM178.7 665.68h5.3v5.3h-5.3zM177.6 665.68h5.3v5.3h-5.3zM176.51 665.68h5.3v5.3h-5.3zM175.45 665.68h5.3v5.3h-5.3zM174.4 665.67h5.3v5.3h-5.3zM173.37 665.67h5.3v5.3h-5.3zM172.36 665.67h5.3v5.3h-5.3zM171.36 665.66h5.3v5.3h-5.3zM170.38 665.66h5.3v5.3h-5.3zM169.41 665.66h5.3v5.3h-5.3zM168.46 665.65h5.3v5.3h-5.3zM167.52 665.65h5.3v5.3h-5.3zM166.6 665.65h5.3v5.3h-5.3zM165.69 665.64h5.3v5.3h-5.3zM164.79 665.64h5.3v5.3h-5.3zM163.91 665.63h5.3v5.3h-5.3zM163.03 665.62h5.3v5.3h-5.3zM162.17 665.61h5.3v5.3h-5.3zM161.32 665.6h5.3v5.3h-5.3zM160.49 665.59h5.3v5.3h-5.3zM159.66 665.58h5.3v5.3h-5.3zM158.84 665.57h5.3v5.3h-5.3zM158.04 665.56h5.3v5.3h-5.3zM157.24 665.55h5.3v5.3h-5.3zM156.45 665.54h5.3v5.3h-5.3zM155.68 665.53h5.3v5.3h-5.3zM154.91 665.52h5.3v5.3h-5.3zM154.15 665.51h5.3v5.3h-5.3zM153.41 665.5h5.3v5.3h-5.3zM152.67 665.49h5.3v5.3h-5.3zM151.94 665.48h5.3v5.3h-5.3zM151.21 665.47h5.3v5.3h-5.3zM150.5 665.46h5.3v5.3h-5.3zM149.79 665.45h5.3v5.3h-5.3zM149.09 665.44h5.3v5.3h-5.3zM148.4 665.43h5.3v5.3h-5.3zM147.72 665.42h5.3v5.3h-5.3zM147.04 665.41h5.3v5.3h-5.3zM146.37 665.41h5.3v5.3h-5.3zM145.71 665.4h5.3v5.3h-5.3zM145.06 665.39h5.3v5.3h-5.3zM144.41 665.39h5.3v5.3h-5.3zM143.77 665.38h5.3v5.3h-5.3zM143.13 665.38h5.3v5.3h-5.3zM142.5 665.37h5.3v5.3h-5.3zM141.88 665.37h5.3v5.3h-5.3zM141.26 665.36h5.3v5.3h-5.3zM140.65 665.36h5.3v5.3h-5.3zM140.05 665.36h5.3v5.3h-5.3zM139.45 665.35h5.3v5.3h-5.3zM138.86 665.35h5.3v5.3h-5.3zM138.27 665.35h5.3v5.3h-5.3zM137.69 665.35h5.3v5.3h-5.3zM137.11 665.35h5.3v5.3h-5.3zM136.54 665.36h5.3v5.3h-5.3zM135.97 665.37h5.3v5.3h-5.3zM135.41 665.39h5.3v5.3h-5.3zM134.85 665.42h5.3v5.3h-5.3zM134.3 665.45h5.3v5.3h-5.3zM133.75 665.48h5.3v5.3h-5.3zM133.21 665.52h5.3v5.3h-5.3zM132.67 665.56h5.3v5.3h-5.3zM132.14 665.6h5.3v5.3h-5.3zM131.61 665.64h5.3v5.3h-5.3zM131.09 665.68h5.3v5.3h-5.3zM130.57 665.72h5.3v5.3h-5.3zM130.05 665.76h5.3v5.3h-5.3zM129.54 665.8h5.3v5.3h-5.3zM129.06 667.35h5.3v5.3h-5.3z" fill="#000"/>
<path d="M53.6 618.1H677.6V717.4H53.6ZM68.13 717.4v-5.2M68.13 618.1v5.2M82.64 717.4v-5.2M82.64 618.1v5.2M97.15 717.4v-10.0M97.15 618.1v10.0M111.66 717.4v-5.2M111.66 618.1v5.2M126.17 717.4v-5.2M126.17 618.1v5.2M140.68 717.4v-5.2M140.68 618.1v5.2M155.19 717.4v-5.2M155.19 618.1v5.2M169.7 717.4v-10.0M169.7 618.1v10.0M184.21 717.4v-5.2M184.21 618.1v5.2M198.72 717.4v-5.2M198.72 618.1v5.2M213.23 717.4v-5.2M213.23 618.1v5.2M227.74 717.4v-5.2M227.74 618.1v5.2M242.25 717.4v-10.0M242.25 618.1v10.0M256.76 717.4v-5.2M256.76 618.1v5.2M271.27 717.4v-5.2M271.27 618.1v5.2M285.78 717.4v-5.2M285.78 618.1v5.2M300.29 717.4v-5.2M300.29 618.1v5.2M314.8 717.4v-10.0M314.8 618.1v10.0M329.31 717.4v-5.2M329.31 618.1v5.2M343.82 717.4v-5.2M343.82 618.1v5.2M358.33 717.4v-5.2M358.33 618.1v5.2M372.84 717.4v-5.2M372.84 618.1v5.2M387.35 717.4v-10.0M387.35 618.1v10.0M401.86 717.4v-5.2M401.86 618.1v5.2M416.37 717.4v-5.2M416.37 618.1v5.2M430.88 717.4v-5.2M430.88 618.1v5.2M445.39 717.4v-5.2M445.39 618.1v5.2M459.9 717.4v-10.0M459.9 618.1v10.0M474.41 717.4v-5.2M474.41 618.1v5.2M488.92 717.4v-5.2M488.92 618.1v5.2M503.43 717.4v-5.2M503.43 618.1v5.2M517.94 717.4v-5.2M517.94 618.1v5.2M532.45 717.4v-10.0M532.45 618.1v10.0M546.96 717.4v-5.2M546.96 618.1v5.2M561.47 717.4v-5.2M561.47 618.1v5.2M575.98 717.4v-5.2M575.98 618.1v5.2M590.49 717.4v-5.2M590.49 618.1v5.2M605 717.4v-10.0M605 618.1v10.0M619.51 717.4v-5.2M619.51 618.1v5.2M634.02 717.4v-5.2M634.02 618.1v5.2M648.53 717.4v-5.2M648.53 618.1v5.2M663.04 717.4v-5.2M663.04 618.1v5.2M677.55 717.4v-10.0M677.55 618.1v10.0M53.6 618.1h10.0M677.6 618.1h-10.0M53.6 623.07h5.0M677.6 623.07h-5.0M53.6 628.03h5.0M677.6 628.03h-5.0M53.6 633h5.0M677.6 633h-5.0M53.6 637.96h5.0M677.6 637.96h-5.0M53.6 642.92h10.0M677.6 642.92h-10.0M53.6 647.89h5.0M677.6 647.89h-5.0M53.6 652.86h5.0M677.6 652.86h-5.0M53.6 657.82h5.0M677.6 657.82h-5.0M53.6 662.78h5.0M677.6 662.78h-5.0M53.6 667.75h10.0M677.6 667.75h-10.0M53.6 672.72h5.0M677.6 672.72h-5.0M53.6 677.68h5.0M677.6 677.68h-5.0M53.6 682.64h5.0M677.6 682.64h-5.0M53.6 687.61h5.0M677.6 687.61h-5.0M53.6 692.58h10.0M677.6 692.58h-10.0M53.6 697.54h5.0M677.6 697.54h-5.0M53.6 702.5h5.0M677.6 702.5h-5.0M53.6 707.47h5.0M677.6 707.47h-5.0M53.6 712.43h5.0M677.6 712.43h-5.0M53.6 717.4h10.0M677.6 717.4h-10.0" fill="none" stroke="#5a5a5a" stroke-width="1.1"/>
<g font-size="10" fill="#222"><text x="98.7" y="737.3" text-anchor="middle" font-size="9.5" letter-spacing="0.5">0.0</text><text x="171.25" y="737.3" text-anchor="middle" font-size="9.5" letter-spacing="0.5">0.5</text><text x="243.8" y="737.3" text-anchor="middle" font-size="9.5" letter-spacing="0.5">1.0</text><text x="316.35" y="737.3" text-anchor="middle" font-size="9.5" letter-spacing="0.5">1.5</text><text x="388.9" y="737.3" text-anchor="middle" font-size="9.5" letter-spacing="0.5">2.0</text><text x="461.45" y="737.3" text-anchor="middle" font-size="9.5" letter-spacing="0.5">2.5</text><text x="534" y="737.3" text-anchor="middle" font-size="9.5" letter-spacing="0.5">3.0</text><text x="606.55" y="737.3" text-anchor="middle" font-size="9.5" letter-spacing="0.5">3.5</text><text x="679.1" y="737.3" text-anchor="middle" font-size="9.5" letter-spacing="0.5">4.0</text><text x="43.5" y="621.7" text-anchor="end" letter-spacing="0.3">0.02</text><text x="43.5" y="646.52" text-anchor="end" letter-spacing="0.3">0.01</text><text x="43.5" y="671.35" text-anchor="end" letter-spacing="0.3">0.00</text><text x="43.5" y="696.18" text-anchor="end" letter-spacing="0.3">−0.01</text><text x="43.5" y="721" text-anchor="end" letter-spacing="0.3">−0.02</text></g>
<text x="353.48" y="749.50" font-size="10" fill="#222">Log</text>
<text transform="translate(372.11,749.70) scale(1.248,1)" font-size="10.5" font-family="Liberation Serif" font-style="italic" fill="#222">τ</text>
<text x="98.60" y="645.90" font-size="9.7" letter-spacing="0.031" fill="#222">Residuals of the H</text>
<text x="177.85" y="647.90" font-size="7" fill="#222">2</text>
<text x="181.44" y="645.90" font-size="9.7" letter-spacing="-0.102" fill="#222">O isobaric heat capacity</text>
<text x="285.41" y="645.90" font-size="9.7" fill="#222">C</text>
<text x="292.31" y="646.80" font-size="7.2" fill="#222">P</text>
<text x="297.50" y="645.90" font-size="9.7" fill="#222">(</text>
<text transform="translate(299.62,645.90) scale(1.167,1)" font-size="11" font-family="Liberation Serif" font-style="italic" fill="#222">τ</text>
<text x="305.04" y="645.90" font-size="9.7" fill="#222">),</text>
<text transform="translate(313.58,645.90) scale(1.316,1)" font-size="11" font-family="Liberation Serif" font-style="italic" fill="#222">τ</text>
<text x="320.93" y="645.90" font-size="9.7" letter-spacing="-0.120" fill="#222">= 1/|T</text>
<text x="348.40" y="645.90" font-size="9.7" fill="#222">/</text>
<text x="355.18" y="645.90" font-size="9.7" fill="#222">T</text>
<text x="361.30" y="647.90" font-size="7" fill="#222">c</text>
<text x="366.02" y="645.90" font-size="9.7" letter-spacing="-1.107" fill="#222">−1</text>
<text x="375.83" y="645.90" font-size="9.7" fill="#222">|</text>
<text x="378.03" y="645.90" font-size="9.7" fill="#222">,</text>
<text x="382.88" y="645.90" font-size="9.7" letter-spacing="0.284" fill="#222">T &lt; T</text>
<text x="406.60" y="647.90" font-size="7" fill="#222">c</text>
<g transform="translate(7.8,0) rotate(-90)"><text x="-698.75" y="0" font-size="9.4" letter-spacing="-0.071" fill="#222">(C</text><text x="-688.97" y="1.3" font-size="6.8" letter-spacing="-0.071" fill="#222">P</text><text x="-684.51" y="0" font-size="9.4" letter-spacing="-0.071" fill="#222">(</text><text x="-681.45" y="0" font-size="10" font-family="Liberation Serif" font-style="italic" letter-spacing="-0.071" fill="#222">τ</text><text x="-677.94" y="1.3" font-size="6.8" letter-spacing="-0.071" fill="#222">i</text><text x="-676.50" y="0" font-size="9.4" letter-spacing="-0.071" fill="#222">)−C</text><text x="-661.31" y="1.3" font-size="6.8" letter-spacing="-0.071" fill="#222">P,i</text><text x="-653.59" y="0" font-size="9.4" letter-spacing="-0.071" fill="#222">)/C</text><text x="-641.27" y="1.3" font-size="6.8" letter-spacing="-0.071" fill="#222">P,i</text></g>
<line x1="54.2" y1="668.0" x2="677.0" y2="668.0" stroke="#00ff00" stroke-opacity="0.9" stroke-width="1"/>
</g>
</svg></body></html>
